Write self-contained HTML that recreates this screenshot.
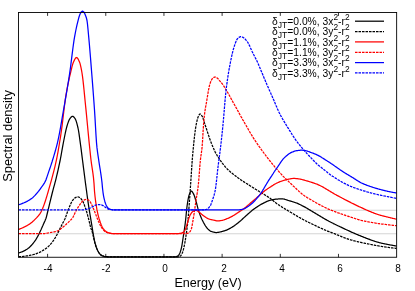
<!DOCTYPE html>
<html><head><meta charset="utf-8"><title>Spectral density</title>
<style>
html,body{margin:0;padding:0;background:#fff;}
body{width:415px;height:291px;position:relative;overflow:hidden;font-family:"Liberation Sans",sans-serif;color:#000;}
.tl,.xl,.yl,.lg{will-change:transform;}
.tl{position:absolute;top:262.5px;width:40px;text-align:center;font-size:10px;line-height:12px;}
.xl{position:absolute;left:107.6px;top:275.3px;width:200px;text-align:center;font-size:12.6px;line-height:16px;}
.yl{position:absolute;left:-42.4px;top:127.75px;width:100px;height:16px;text-align:center;font-size:12.9px;line-height:16px;transform:rotate(-90deg);transform-origin:50% 50%;white-space:nowrap;}
.lg{position:absolute;right:65.2px;white-space:nowrap;font-size:10.3px;line-height:12px;height:12px;}
.sb{font-size:8.6px;position:relative;top:3.3px;}
.sp{font-size:8.4px;position:relative;top:-5.4px;}
</style></head><body>
<svg width="415" height="291" viewBox="0 0 415 291" style="position:absolute;left:0;top:0">
<line x1="18.5" y1="233.75" x2="396.65" y2="233.75" stroke="#d4d4d4" stroke-width="1.2"/>
<line x1="18.5" y1="210.25" x2="396.65" y2="210.25" stroke="#d4d4d4" stroke-width="1.2"/>
<g fill="none" stroke-width="1.25" stroke-linejoin="round">
<path d="M18.5,252.9 L19.0,252.8 L19.5,252.7 L20.0,252.5 L20.5,252.4 L21.0,252.2 L21.5,252.0 L22.0,251.8 L22.5,251.6 L23.0,251.4 L23.5,251.1 L24.0,250.9 L24.5,250.6 L25.0,250.4 L25.5,250.1 L26.0,249.8 L26.5,249.5 L27.0,249.2 L27.5,248.8 L28.0,248.5 L28.5,248.1 L29.0,247.7 L29.5,247.2 L30.0,246.8 L30.5,246.3 L31.0,245.8 L31.5,245.3 L32.0,244.7 L32.5,244.1 L33.0,243.5 L33.5,242.8 L34.0,242.2 L34.5,241.5 L35.0,240.8 L35.5,240.1 L36.0,239.3 L36.5,238.5 L37.0,237.7 L37.5,236.8 L38.0,235.9 L38.5,235.0 L39.0,234.0 L39.5,232.9 L40.0,231.8 L40.5,230.7 L41.0,229.7 L41.5,228.6 L42.0,227.4 L42.5,226.3 L43.0,225.2 L43.5,224.0 L44.0,222.9 L44.5,221.9 L45.0,220.8 L45.5,219.6 L46.0,218.3 L46.5,216.6 L47.0,214.5 L47.5,212.5 L48.0,210.4 L48.5,208.4 L49.0,206.3 L49.5,204.2 L50.0,202.1 L50.5,200.1 L51.0,198.0 L51.5,196.0 L52.0,194.0 L52.5,192.0 L53.0,190.1 L53.5,188.2 L54.0,186.4 L54.5,184.6 L55.0,182.7 L55.5,180.8 L56.0,178.8 L56.5,176.7 L57.0,174.6 L57.5,172.5 L58.0,170.3 L58.5,168.0 L59.0,165.7 L59.5,163.4 L60.0,161.0 L60.5,158.5 L61.0,155.8 L61.5,153.0 L62.0,150.2 L62.5,147.4 L63.0,144.7 L63.5,142.0 L64.0,139.5 L64.5,137.0 L65.0,134.5 L65.5,132.1 L66.0,129.8 L66.5,127.8 L67.0,126.0 L67.5,124.4 L68.0,122.9 L68.5,121.5 L69.0,120.3 L69.5,119.3 L70.0,118.5 L70.5,117.9 L71.0,117.3 L71.5,116.8 L72.0,116.4 L72.5,116.3 L73.0,116.4 L73.5,116.7 L74.0,117.2 L74.5,117.8 L75.0,118.5 L75.5,119.4 L76.0,120.6 L76.5,122.1 L77.0,123.9 L77.5,125.9 L78.0,128.0 L78.5,130.5 L79.0,133.6 L79.5,137.1 L80.0,140.8 L80.5,144.5 L81.0,148.2 L81.5,152.1 L82.0,156.1 L82.5,160.0 L83.0,163.9 L83.5,167.8 L84.0,171.7 L84.5,175.6 L85.0,179.5 L85.5,183.3 L86.0,187.0 L86.5,190.7 L87.0,194.5 L87.5,198.2 L88.0,201.7 L88.5,205.1 L89.0,208.3 L89.5,211.4 L90.0,214.5 L90.5,217.4 L91.0,220.3 L91.5,223.3 L92.0,226.4 L92.5,229.6 L93.0,232.6 L93.5,235.5 L94.0,238.2 L94.5,240.7 L95.0,242.8 L95.5,244.6 L96.0,246.3 L96.5,247.7 L97.0,249.0 L97.5,250.1 L98.0,251.1 L98.5,252.0 L99.0,252.8 L99.5,253.5 L100.0,254.1 L100.5,254.6 L101.0,255.1 L101.5,255.4 L102.0,255.7 L102.5,255.9 L103.0,256.1 L103.5,256.2 L104.0,256.4 L104.5,256.5 L105.0,256.5 L105.5,256.6 L106.0,256.6 L106.5,256.7 L107.0,256.7 L107.5,256.8 L108.0,256.8 L108.5,256.8 L109.0,256.8 L109.5,256.8 L110.0,256.8 L110.5,256.8 L111.0,256.8 L111.5,256.8 L112.0,256.8 L112.5,256.8 L113.0,256.8 L113.5,256.8 L114.0,256.8 L114.5,256.8 L115.0,256.8 L115.5,256.8 L116.0,256.8 L116.5,256.8 L117.0,256.8 L117.5,256.8 L118.0,256.8 L118.5,256.8 L119.0,256.8 L119.5,256.8 L120.0,256.8 L120.5,256.8 L121.0,256.8 L121.5,256.8 L122.0,256.8 L122.5,256.8 L123.0,256.8 L123.5,256.8 L124.0,256.8 L124.5,256.8 L125.0,256.8 L125.5,256.8 L126.0,256.8 L126.5,256.8 L127.0,256.8 L127.5,256.8 L128.0,256.8 L128.5,256.8 L129.0,256.8 L129.5,256.8 L130.0,256.8 L130.5,256.8 L131.0,256.8 L131.5,256.8 L132.0,256.8 L132.5,256.8 L133.0,256.8 L133.5,256.8 L134.0,256.8 L134.5,256.8 L135.0,256.8 L135.5,256.8 L136.0,256.8 L136.5,256.8 L137.0,256.8 L137.5,256.8 L138.0,256.8 L138.5,256.8 L139.0,256.8 L139.5,256.8 L140.0,256.8 L140.5,256.8 L141.0,256.8 L141.5,256.8 L142.0,256.8 L142.5,256.8 L143.0,256.8 L143.5,256.8 L144.0,256.8 L144.5,256.8 L145.0,256.8 L145.5,256.8 L146.0,256.8 L146.5,256.8 L147.0,256.8 L147.5,256.8 L148.0,256.8 L148.5,256.8 L149.0,256.8 L149.5,256.8 L150.0,256.8 L150.5,256.8 L151.0,256.8 L151.5,256.8 L152.0,256.8 L152.5,256.8 L153.0,256.8 L153.5,256.8 L154.0,256.8 L154.5,256.8 L155.0,256.8 L155.5,256.8 L156.0,256.8 L156.5,256.8 L157.0,256.8 L157.5,256.8 L158.0,256.8 L158.5,256.8 L159.0,256.8 L159.5,256.8 L160.0,256.8 L160.5,256.8 L161.0,256.8 L161.5,256.8 L162.0,256.8 L162.5,256.8 L163.0,256.8 L163.5,256.8 L164.0,256.8 L164.5,256.8 L165.0,256.8 L165.5,256.8 L166.0,256.8 L166.5,256.8 L167.0,256.8 L167.5,256.8 L168.0,256.8 L168.5,256.8 L169.0,256.8 L169.5,256.8 L170.0,256.8 L170.5,256.8 L171.0,256.8 L171.5,256.8 L172.0,256.8 L172.5,256.8 L173.0,256.8 L173.5,256.8 L174.0,256.8 L174.5,256.8 L175.0,256.8 L175.5,256.8 L176.0,256.7 L176.5,256.6 L177.0,256.4 L177.5,256.2 L178.0,255.9 L178.5,255.3 L179.0,254.6 L179.5,253.8 L180.0,252.7 L180.5,251.3 L181.0,249.6 L181.5,247.6 L182.0,245.0 L182.5,241.8 L183.0,238.5 L183.5,235.2 L184.0,232.0 L184.5,228.6 L185.0,225.1 L185.5,221.2 L186.0,216.3 L186.5,211.1 L187.0,206.5 L187.5,203.0 L188.0,200.0 L188.5,197.4 L189.0,195.4 L189.5,194.0 L190.0,192.8 L190.5,191.8 L191.0,191.2 L191.5,191.1 L192.0,191.5 L192.5,192.1 L193.0,193.0 L193.5,193.9 L194.0,194.9 L194.5,196.2 L195.0,197.8 L195.5,199.5 L196.0,201.3 L196.5,203.0 L197.0,204.9 L197.5,206.8 L198.0,208.7 L198.5,210.4 L199.0,212.0 L199.5,213.4 L200.0,214.8 L200.5,216.0 L201.0,217.2 L201.5,218.4 L202.0,219.5 L202.5,220.5 L203.0,221.5 L203.5,222.5 L204.0,223.4 L204.5,224.3 L205.0,225.2 L205.5,226.0 L206.0,226.7 L206.5,227.4 L207.0,228.0 L207.5,228.5 L208.0,229.1 L208.5,229.6 L209.0,230.0 L209.5,230.4 L210.0,230.8 L210.5,231.1 L211.0,231.3 L211.5,231.5 L212.0,231.7 L212.5,231.8 L213.0,232.0 L213.5,232.1 L214.0,232.2 L214.5,232.3 L215.0,232.4 L215.5,232.5 L216.0,232.5 L216.5,232.5 L217.0,232.5 L217.5,232.4 L218.0,232.4 L218.5,232.3 L219.0,232.2 L219.5,232.1 L220.0,232.0 L220.5,231.9 L221.0,231.8 L221.5,231.6 L222.0,231.5 L222.5,231.4 L223.0,231.2 L223.5,231.1 L224.0,230.9 L224.5,230.8 L225.0,230.6 L225.5,230.4 L226.0,230.3 L226.5,230.1 L227.0,229.9 L227.5,229.6 L228.0,229.4 L228.5,229.1 L229.0,228.9 L229.5,228.6 L230.0,228.3 L230.5,228.1 L231.0,227.8 L231.5,227.5 L232.0,227.2 L232.5,226.9 L233.0,226.6 L233.5,226.3 L234.0,225.9 L234.5,225.6 L235.0,225.2 L235.5,224.8 L236.0,224.5 L236.5,224.1 L237.0,223.7 L237.5,223.3 L238.0,222.9 L238.5,222.5 L239.0,222.1 L239.5,221.7 L240.0,221.3 L240.5,220.8 L241.0,220.4 L241.5,219.9 L242.0,219.5 L242.5,219.0 L243.0,218.5 L243.5,218.1 L244.0,217.6 L244.5,217.1 L245.0,216.7 L245.5,216.2 L246.0,215.8 L246.5,215.3 L247.0,214.9 L247.5,214.5 L248.0,214.0 L248.5,213.6 L249.0,213.1 L249.5,212.7 L250.0,212.2 L250.5,211.8 L251.0,211.4 L251.5,210.9 L252.0,210.5 L252.5,210.1 L253.0,209.7 L253.5,209.4 L254.0,209.0 L254.5,208.6 L255.0,208.3 L255.5,207.9 L256.0,207.6 L256.5,207.3 L257.0,206.9 L257.5,206.6 L258.0,206.3 L258.5,206.0 L259.0,205.6 L259.5,205.3 L260.0,205.0 L260.5,204.7 L261.0,204.4 L261.5,204.2 L262.0,203.9 L262.5,203.6 L263.0,203.4 L263.5,203.1 L264.0,202.8 L264.5,202.6 L265.0,202.3 L265.5,202.1 L266.0,201.8 L266.5,201.6 L267.0,201.4 L267.5,201.2 L268.0,201.0 L268.5,200.8 L269.0,200.6 L269.5,200.5 L270.0,200.3 L270.5,200.2 L271.0,200.1 L271.5,200.0 L272.0,199.8 L272.5,199.7 L273.0,199.6 L273.5,199.5 L274.0,199.4 L274.5,199.4 L275.0,199.3 L275.5,199.2 L276.0,199.2 L276.5,199.1 L277.0,199.1 L277.5,199.0 L278.0,199.0 L278.5,198.9 L279.0,198.9 L279.5,198.9 L280.0,198.8 L280.5,198.8 L281.0,198.8 L281.5,198.8 L282.0,198.8 L282.5,198.8 L283.0,198.9 L283.5,199.0 L284.0,199.1 L284.5,199.2 L285.0,199.4 L285.5,199.5 L286.0,199.7 L286.5,199.9 L287.0,200.0 L287.5,200.2 L288.0,200.4 L288.5,200.5 L289.0,200.7 L289.5,200.8 L290.0,200.9 L290.5,201.1 L291.0,201.2 L291.5,201.4 L292.0,201.5 L292.5,201.7 L293.0,201.8 L293.5,202.0 L294.0,202.2 L294.5,202.3 L295.0,202.5 L295.5,202.7 L296.0,202.8 L296.5,203.0 L297.0,203.2 L297.5,203.4 L298.0,203.6 L298.5,203.8 L299.0,204.1 L299.5,204.3 L300.0,204.5 L300.5,204.8 L301.0,205.0 L301.5,205.3 L302.0,205.6 L302.5,205.8 L303.0,206.1 L303.5,206.4 L304.0,206.6 L304.5,206.9 L305.0,207.2 L305.5,207.4 L306.0,207.7 L306.5,208.0 L307.0,208.3 L307.5,208.6 L308.0,208.9 L308.5,209.2 L309.0,209.5 L309.5,209.8 L310.0,210.1 L310.5,210.4 L311.0,210.7 L311.5,211.0 L312.0,211.3 L312.5,211.6 L313.0,211.9 L313.5,212.2 L314.0,212.5 L314.5,212.8 L315.0,213.1 L315.5,213.4 L316.0,213.7 L316.5,214.0 L317.0,214.3 L317.5,214.6 L318.0,214.9 L318.5,215.2 L319.0,215.5 L319.5,215.8 L320.0,216.1 L320.5,216.4 L321.0,216.7 L321.5,217.0 L322.0,217.3 L322.5,217.6 L323.0,217.9 L323.5,218.2 L324.0,218.5 L324.5,218.8 L325.0,219.1 L325.5,219.4 L326.0,219.6 L326.5,219.9 L327.0,220.2 L327.5,220.5 L328.0,220.7 L328.5,221.0 L329.0,221.3 L329.5,221.5 L330.0,221.8 L330.5,222.0 L331.0,222.3 L331.5,222.5 L332.0,222.8 L332.5,223.0 L333.0,223.3 L333.5,223.6 L334.0,223.8 L334.5,224.0 L335.0,224.3 L335.5,224.5 L336.0,224.8 L336.5,225.0 L337.0,225.3 L337.5,225.5 L338.0,225.8 L338.5,226.0 L339.0,226.2 L339.5,226.5 L340.0,226.7 L340.5,227.0 L341.0,227.2 L341.5,227.4 L342.0,227.7 L342.5,227.9 L343.0,228.1 L343.5,228.4 L344.0,228.6 L344.5,228.8 L345.0,229.1 L345.5,229.3 L346.0,229.5 L346.5,229.8 L347.0,230.0 L347.5,230.2 L348.0,230.5 L348.5,230.7 L349.0,230.9 L349.5,231.2 L350.0,231.4 L350.5,231.6 L351.0,231.8 L351.5,232.1 L352.0,232.3 L352.5,232.5 L353.0,232.7 L353.5,233.0 L354.0,233.2 L354.5,233.4 L355.0,233.6 L355.5,233.8 L356.0,234.0 L356.5,234.3 L357.0,234.5 L357.5,234.7 L358.0,234.9 L358.5,235.1 L359.0,235.3 L359.5,235.5 L360.0,235.7 L360.5,235.9 L361.0,236.1 L361.5,236.3 L362.0,236.5 L362.5,236.7 L363.0,236.9 L363.5,237.1 L364.0,237.3 L364.5,237.5 L365.0,237.7 L365.5,237.9 L366.0,238.1 L366.5,238.3 L367.0,238.5 L367.5,238.7 L368.0,238.9 L368.5,239.1 L369.0,239.2 L369.5,239.4 L370.0,239.6 L370.5,239.8 L371.0,240.0 L371.5,240.2 L372.0,240.3 L372.5,240.5 L373.0,240.7 L373.5,240.9 L374.0,241.0 L374.5,241.2 L375.0,241.4 L375.5,241.5 L376.0,241.7 L376.5,241.8 L377.0,242.0 L377.5,242.1 L378.0,242.2 L378.5,242.4 L379.0,242.5 L379.5,242.7 L380.0,242.8 L380.5,242.9 L381.0,243.0 L381.5,243.2 L382.0,243.3 L382.5,243.4 L383.0,243.5 L383.5,243.6 L384.0,243.7 L384.5,243.8 L385.0,243.9 L385.5,244.0 L386.0,244.1 L386.5,244.2 L387.0,244.3 L387.5,244.4 L388.0,244.5 L388.5,244.6 L389.0,244.7 L389.5,244.8 L390.0,244.9 L390.5,245.0 L391.0,245.1 L391.5,245.2 L392.0,245.2 L392.5,245.3 L393.0,245.4 L393.5,245.5 L394.0,245.6 L394.5,245.7 L395.0,245.8 L395.5,245.8 L396.0,245.9 L396.5,246.0" stroke="#000"/>
<path d="M18.5,256.8 L19.0,256.8 L19.5,256.7 L20.0,256.7 L20.5,256.7 L21.0,256.6 L21.5,256.6 L22.0,256.5 L22.5,256.5 L23.0,256.4 L23.5,256.3 L24.0,256.3 L24.5,256.2 L25.0,256.1 L25.5,256.1 L26.0,256.0 L26.5,255.9 L27.0,255.8 L27.5,255.8 L28.0,255.7 L28.5,255.6 L29.0,255.5 L29.5,255.4 L30.0,255.3 L30.5,255.2 L31.0,255.1 L31.5,255.0 L32.0,254.9 L32.5,254.8 L33.0,254.7 L33.5,254.5 L34.0,254.4 L34.5,254.3 L35.0,254.1 L35.5,254.0 L36.0,253.8 L36.5,253.6 L37.0,253.4 L37.5,253.2 L38.0,253.0 L38.5,252.8 L39.0,252.6 L39.5,252.3 L40.0,252.1 L40.5,251.8 L41.0,251.6 L41.5,251.3 L42.0,251.0 L42.5,250.7 L43.0,250.4 L43.5,250.1 L44.0,249.8 L44.5,249.5 L45.0,249.2 L45.5,248.8 L46.0,248.4 L46.5,248.1 L47.0,247.7 L47.5,247.3 L48.0,246.8 L48.5,246.4 L49.0,245.9 L49.5,245.4 L50.0,244.9 L50.5,244.3 L51.0,243.7 L51.5,243.1 L52.0,242.4 L52.5,241.8 L53.0,241.1 L53.5,240.4 L54.0,239.6 L54.5,238.9 L55.0,238.1 L55.5,237.2 L56.0,236.4 L56.5,235.5 L57.0,234.6 L57.5,233.6 L58.0,232.6 L58.5,231.6 L59.0,230.6 L59.5,229.6 L60.0,228.6 L60.5,227.6 L61.0,226.6 L61.5,225.6 L62.0,224.6 L62.5,223.6 L63.0,222.6 L63.5,221.7 L64.0,220.7 L64.5,219.8 L65.0,218.7 L65.5,217.5 L66.0,216.1 L66.5,214.7 L67.0,213.2 L67.5,211.8 L68.0,210.5 L68.5,209.2 L69.0,207.9 L69.5,206.7 L70.0,205.5 L70.5,204.4 L71.0,203.3 L71.5,202.3 L72.0,201.4 L72.5,200.6 L73.0,199.9 L73.5,199.3 L74.0,198.8 L74.5,198.3 L75.0,197.9 L75.5,197.6 L76.0,197.3 L76.5,197.1 L77.0,196.9 L77.5,196.8 L78.0,196.8 L78.5,197.0 L79.0,197.2 L79.5,197.5 L80.0,197.8 L80.5,198.2 L81.0,198.7 L81.5,199.3 L82.0,200.0 L82.5,200.7 L83.0,201.7 L83.5,202.8 L84.0,204.1 L84.5,205.4 L85.0,206.8 L85.5,208.2 L86.0,209.7 L86.5,211.3 L87.0,213.0 L87.5,214.8 L88.0,216.6 L88.5,218.5 L89.0,220.5 L89.5,222.7 L90.0,224.9 L90.5,226.9 L91.0,228.5 L91.5,229.9 L92.0,231.3 L92.5,232.9 L93.0,234.9 L93.5,237.2 L94.0,239.6 L94.5,241.6 L95.0,243.4 L95.5,245.0 L96.0,246.5 L96.5,247.8 L97.0,249.0 L97.5,250.1 L98.0,251.1 L98.5,252.0 L99.0,252.8 L99.5,253.5 L100.0,254.1 L100.5,254.6 L101.0,255.1 L101.5,255.4 L102.0,255.7 L102.5,255.9 L103.0,256.1 L103.5,256.2 L104.0,256.4 L104.5,256.5 L105.0,256.5 L105.5,256.6 L106.0,256.6 L106.5,256.7 L107.0,256.7 L107.5,256.8 L108.0,256.8 L108.5,256.8 L109.0,256.8 L109.5,256.8 L110.0,256.8 L110.5,256.8 L111.0,256.8 L111.5,256.8 L112.0,256.8 L112.5,256.8 L113.0,256.8 L113.5,256.8 L114.0,256.8 L114.5,256.8 L115.0,256.8 L115.5,256.8 L116.0,256.8 L116.5,256.8 L117.0,256.8 L117.5,256.8 L118.0,256.8 L118.5,256.8 L119.0,256.8 L119.5,256.8 L120.0,256.8 L120.5,256.8 L121.0,256.8 L121.5,256.8 L122.0,256.8 L122.5,256.8 L123.0,256.8 L123.5,256.8 L124.0,256.8 L124.5,256.8 L125.0,256.8 L125.5,256.8 L126.0,256.8 L126.5,256.8 L127.0,256.8 L127.5,256.8 L128.0,256.8 L128.5,256.8 L129.0,256.8 L129.5,256.8 L130.0,256.8 L130.5,256.8 L131.0,256.8 L131.5,256.8 L132.0,256.8 L132.5,256.8 L133.0,256.8 L133.5,256.8 L134.0,256.8 L134.5,256.8 L135.0,256.8 L135.5,256.8 L136.0,256.8 L136.5,256.8 L137.0,256.8 L137.5,256.8 L138.0,256.8 L138.5,256.8 L139.0,256.8 L139.5,256.8 L140.0,256.8 L140.5,256.8 L141.0,256.8 L141.5,256.8 L142.0,256.8 L142.5,256.8 L143.0,256.8 L143.5,256.8 L144.0,256.8 L144.5,256.8 L145.0,256.8 L145.5,256.8 L146.0,256.8 L146.5,256.8 L147.0,256.8 L147.5,256.8 L148.0,256.8 L148.5,256.8 L149.0,256.8 L149.5,256.8 L150.0,256.8 L150.5,256.8 L151.0,256.8 L151.5,256.8 L152.0,256.8 L152.5,256.8 L153.0,256.8 L153.5,256.8 L154.0,256.8 L154.5,256.8 L155.0,256.8 L155.5,256.8 L156.0,256.8 L156.5,256.8 L157.0,256.8 L157.5,256.8 L158.0,256.8 L158.5,256.8 L159.0,256.8 L159.5,256.8 L160.0,256.8 L160.5,256.8 L161.0,256.8 L161.5,256.8 L162.0,256.8 L162.5,256.8 L163.0,256.8 L163.5,256.8 L164.0,256.8 L164.5,256.8 L165.0,256.8 L165.5,256.8 L166.0,256.8 L166.5,256.8 L167.0,256.8 L167.5,256.8 L168.0,256.8 L168.5,256.8 L169.0,256.8 L169.5,256.8 L170.0,256.8 L170.5,256.8 L171.0,256.8 L171.5,256.8 L172.0,256.8 L172.5,256.8 L173.0,256.8 L173.5,256.8 L174.0,256.8 L174.5,256.8 L175.0,256.8 L175.5,256.8 L176.0,256.8 L176.5,256.8 L177.0,256.8 L177.5,256.8 L178.0,256.8 L178.5,256.7 L179.0,256.6 L179.5,256.4 L180.0,256.2 L180.5,256.0 L181.0,255.4 L181.5,254.6 L182.0,253.6 L182.5,252.5 L183.0,251.1 L183.5,249.2 L184.0,247.1 L184.5,244.7 L185.0,242.1 L185.5,239.1 L186.0,235.7 L186.5,232.2 L187.0,228.5 L187.5,224.6 L188.0,220.0 L188.5,214.1 L189.0,207.4 L189.5,200.5 L190.0,193.3 L190.5,186.0 L191.0,178.5 L191.5,170.8 L192.0,163.4 L192.5,156.8 L193.0,151.3 L193.5,146.0 L194.0,141.1 L194.5,136.5 L195.0,132.3 L195.5,128.6 L196.0,125.6 L196.5,123.0 L197.0,120.8 L197.5,118.8 L198.0,117.2 L198.5,116.0 L199.0,115.1 L199.5,114.3 L200.0,114.0 L200.5,114.2 L201.0,114.6 L201.5,115.3 L202.0,116.0 L202.5,116.9 L203.0,118.2 L203.5,119.7 L204.0,121.3 L204.5,123.0 L205.0,124.5 L205.5,126.0 L206.0,127.5 L206.5,129.0 L207.0,130.5 L207.5,132.1 L208.0,133.6 L208.5,135.1 L209.0,136.6 L209.5,138.1 L210.0,139.5 L210.5,140.9 L211.0,142.2 L211.5,143.5 L212.0,144.8 L212.5,146.0 L213.0,147.2 L213.5,148.3 L214.0,149.4 L214.5,150.5 L215.0,151.6 L215.5,152.6 L216.0,153.5 L216.5,154.4 L217.0,155.2 L217.5,156.1 L218.0,156.9 L218.5,157.6 L219.0,158.4 L219.5,159.1 L220.0,159.8 L220.5,160.6 L221.0,161.3 L221.5,162.0 L222.0,162.7 L222.5,163.4 L223.0,164.0 L223.5,164.7 L224.0,165.3 L224.5,165.9 L225.0,166.5 L225.5,167.1 L226.0,167.6 L226.5,168.1 L227.0,168.7 L227.5,169.2 L228.0,169.7 L228.5,170.2 L229.0,170.6 L229.5,171.1 L230.0,171.5 L230.5,172.0 L231.0,172.4 L231.5,172.8 L232.0,173.2 L232.5,173.6 L233.0,174.0 L233.5,174.4 L234.0,174.8 L234.5,175.2 L235.0,175.5 L235.5,175.9 L236.0,176.3 L236.5,176.7 L237.0,177.1 L237.5,177.4 L238.0,177.8 L238.5,178.2 L239.0,178.5 L239.5,178.9 L240.0,179.2 L240.5,179.6 L241.0,179.9 L241.5,180.3 L242.0,180.6 L242.5,180.9 L243.0,181.3 L243.5,181.6 L244.0,181.9 L244.5,182.2 L245.0,182.5 L245.5,182.8 L246.0,183.2 L246.5,183.5 L247.0,183.8 L247.5,184.1 L248.0,184.4 L248.5,184.8 L249.0,185.1 L249.5,185.4 L250.0,185.7 L250.5,186.0 L251.0,186.4 L251.5,186.7 L252.0,187.0 L252.5,187.3 L253.0,187.6 L253.5,187.9 L254.0,188.3 L254.5,188.6 L255.0,188.9 L255.5,189.2 L256.0,189.5 L256.5,189.8 L257.0,190.1 L257.5,190.4 L258.0,190.7 L258.5,191.0 L259.0,191.3 L259.5,191.7 L260.0,192.0 L260.5,192.3 L261.0,192.6 L261.5,192.9 L262.0,193.2 L262.5,193.5 L263.0,193.8 L263.5,194.1 L264.0,194.4 L264.5,194.7 L265.0,195.0 L265.5,195.3 L266.0,195.6 L266.5,195.9 L267.0,196.2 L267.5,196.5 L268.0,196.9 L268.5,197.2 L269.0,197.5 L269.5,197.9 L270.0,198.2 L270.5,198.6 L271.0,199.0 L271.5,199.3 L272.0,199.7 L272.5,200.2 L273.0,200.6 L273.5,201.0 L274.0,201.4 L274.5,201.8 L275.0,202.2 L275.5,202.6 L276.0,203.0 L276.5,203.4 L277.0,203.8 L277.5,204.1 L278.0,204.5 L278.5,204.8 L279.0,205.1 L279.5,205.5 L280.0,205.8 L280.5,206.1 L281.0,206.4 L281.5,206.7 L282.0,207.1 L282.5,207.4 L283.0,207.7 L283.5,208.0 L284.0,208.3 L284.5,208.6 L285.0,208.9 L285.5,209.2 L286.0,209.5 L286.5,209.8 L287.0,210.1 L287.5,210.4 L288.0,210.7 L288.5,211.0 L289.0,211.3 L289.5,211.6 L290.0,211.9 L290.5,212.2 L291.0,212.5 L291.5,212.8 L292.0,213.1 L292.5,213.4 L293.0,213.7 L293.5,214.0 L294.0,214.3 L294.5,214.6 L295.0,214.9 L295.5,215.2 L296.0,215.5 L296.5,215.8 L297.0,216.1 L297.5,216.4 L298.0,216.7 L298.5,217.0 L299.0,217.3 L299.5,217.5 L300.0,217.8 L300.5,218.1 L301.0,218.4 L301.5,218.7 L302.0,218.9 L302.5,219.2 L303.0,219.5 L303.5,219.7 L304.0,220.0 L304.5,220.3 L305.0,220.5 L305.5,220.8 L306.0,221.0 L306.5,221.3 L307.0,221.6 L307.5,221.8 L308.0,222.1 L308.5,222.3 L309.0,222.5 L309.5,222.8 L310.0,223.0 L310.5,223.3 L311.0,223.5 L311.5,223.7 L312.0,224.0 L312.5,224.2 L313.0,224.5 L313.5,224.7 L314.0,224.9 L314.5,225.2 L315.0,225.4 L315.5,225.6 L316.0,225.9 L316.5,226.1 L317.0,226.3 L317.5,226.6 L318.0,226.8 L318.5,227.1 L319.0,227.3 L319.5,227.5 L320.0,227.8 L320.5,228.0 L321.0,228.2 L321.5,228.5 L322.0,228.7 L322.5,228.9 L323.0,229.2 L323.5,229.4 L324.0,229.6 L324.5,229.8 L325.0,230.0 L325.5,230.2 L326.0,230.5 L326.5,230.7 L327.0,230.9 L327.5,231.1 L328.0,231.3 L328.5,231.4 L329.0,231.6 L329.5,231.8 L330.0,232.0 L330.5,232.2 L331.0,232.4 L331.5,232.6 L332.0,232.8 L332.5,232.9 L333.0,233.1 L333.5,233.3 L334.0,233.5 L334.5,233.7 L335.0,233.9 L335.5,234.2 L336.0,234.4 L336.5,234.6 L337.0,234.8 L337.5,235.0 L338.0,235.2 L338.5,235.4 L339.0,235.6 L339.5,235.8 L340.0,236.0 L340.5,236.2 L341.0,236.4 L341.5,236.6 L342.0,236.8 L342.5,237.0 L343.0,237.2 L343.5,237.4 L344.0,237.6 L344.5,237.8 L345.0,238.0 L345.5,238.2 L346.0,238.4 L346.5,238.6 L347.0,238.7 L347.5,238.9 L348.0,239.1 L348.5,239.2 L349.0,239.4 L349.5,239.5 L350.0,239.7 L350.5,239.8 L351.0,240.0 L351.5,240.1 L352.0,240.2 L352.5,240.4 L353.0,240.5 L353.5,240.6 L354.0,240.8 L354.5,240.9 L355.0,241.0 L355.5,241.2 L356.0,241.3 L356.5,241.4 L357.0,241.5 L357.5,241.6 L358.0,241.8 L358.5,241.9 L359.0,242.0 L359.5,242.1 L360.0,242.2 L360.5,242.3 L361.0,242.4 L361.5,242.6 L362.0,242.7 L362.5,242.8 L363.0,242.9 L363.5,243.0 L364.0,243.1 L364.5,243.2 L365.0,243.3 L365.5,243.4 L366.0,243.5 L366.5,243.6 L367.0,243.7 L367.5,243.8 L368.0,243.9 L368.5,244.0 L369.0,244.1 L369.5,244.2 L370.0,244.3 L370.5,244.4 L371.0,244.5 L371.5,244.6 L372.0,244.7 L372.5,244.8 L373.0,244.9 L373.5,245.0 L374.0,245.1 L374.5,245.2 L375.0,245.3 L375.5,245.4 L376.0,245.5 L376.5,245.6 L377.0,245.7 L377.5,245.7 L378.0,245.8 L378.5,245.9 L379.0,246.0 L379.5,246.1 L380.0,246.2 L380.5,246.2 L381.0,246.3 L381.5,246.4 L382.0,246.5 L382.5,246.6 L383.0,246.6 L383.5,246.7 L384.0,246.8 L384.5,246.9 L385.0,246.9 L385.5,247.0 L386.0,247.1 L386.5,247.2 L387.0,247.2 L387.5,247.3 L388.0,247.4 L388.5,247.4 L389.0,247.5 L389.5,247.6 L390.0,247.6 L390.5,247.7 L391.0,247.8 L391.5,247.8 L392.0,247.9 L392.5,247.9 L393.0,248.0 L393.5,248.1 L394.0,248.1 L394.5,248.2 L395.0,248.2 L395.5,248.3 L396.0,248.3 L396.5,248.4" stroke="#000" stroke-dasharray="2.55 0.95"/>
<path d="M18.5,229.5 L19.0,229.3 L19.5,229.1 L20.0,228.9 L20.5,228.7 L21.0,228.5 L21.5,228.3 L22.0,228.0 L22.5,227.8 L23.0,227.6 L23.5,227.3 L24.0,227.1 L24.5,226.8 L25.0,226.6 L25.5,226.3 L26.0,226.1 L26.5,225.8 L27.0,225.6 L27.5,225.3 L28.0,225.0 L28.5,224.7 L29.0,224.4 L29.5,224.1 L30.0,223.7 L30.5,223.4 L31.0,223.0 L31.5,222.6 L32.0,222.2 L32.5,221.7 L33.0,221.3 L33.5,220.8 L34.0,220.4 L34.5,219.9 L35.0,219.4 L35.5,218.9 L36.0,218.4 L36.5,217.9 L37.0,217.3 L37.5,216.7 L38.0,216.2 L38.5,215.6 L39.0,215.0 L39.5,214.3 L40.0,213.6 L40.5,212.8 L41.0,212.0 L41.5,211.0 L42.0,209.9 L42.5,208.8 L43.0,207.5 L43.5,206.3 L44.0,204.9 L44.5,203.5 L45.0,202.0 L45.5,200.5 L46.0,198.9 L46.5,197.3 L47.0,195.6 L47.5,193.9 L48.0,192.2 L48.5,190.4 L49.0,188.6 L49.5,186.9 L50.0,185.1 L50.5,183.4 L51.0,181.6 L51.5,179.8 L52.0,177.9 L52.5,176.1 L53.0,174.2 L53.5,172.3 L54.0,170.4 L54.5,168.4 L55.0,166.3 L55.5,164.2 L56.0,161.9 L56.5,159.6 L57.0,157.1 L57.5,154.5 L58.0,151.8 L58.5,148.9 L59.0,146.0 L59.5,143.0 L60.0,140.0 L60.5,136.8 L61.0,133.5 L61.5,130.0 L62.0,126.3 L62.5,122.3 L63.0,118.2 L63.5,114.0 L64.0,109.8 L64.5,105.7 L65.0,101.8 L65.5,98.2 L66.0,95.0 L66.5,92.1 L67.0,89.3 L67.5,86.7 L68.0,84.2 L68.5,81.8 L69.0,79.5 L69.5,77.2 L70.0,75.1 L70.5,73.0 L71.0,70.9 L71.5,68.8 L72.0,66.7 L72.5,64.9 L73.0,63.3 L73.5,62.0 L74.0,60.9 L74.5,59.9 L75.0,59.0 L75.5,58.2 L76.0,57.7 L76.5,57.5 L77.0,57.7 L77.5,58.2 L78.0,58.9 L78.5,59.8 L79.0,60.9 L79.5,62.0 L80.0,63.4 L80.5,65.3 L81.0,67.6 L81.5,70.2 L82.0,73.0 L82.5,76.3 L83.0,80.3 L83.5,84.9 L84.0,89.8 L84.5,94.9 L85.0,100.0 L85.5,105.0 L86.0,109.9 L86.5,115.0 L87.0,120.2 L87.5,125.5 L88.0,130.7 L88.5,135.9 L89.0,141.1 L89.5,146.0 L90.0,150.8 L90.5,155.6 L91.0,160.0 L91.5,163.8 L92.0,167.1 L92.5,170.3 L93.0,173.8 L93.5,177.9 L94.0,183.4 L94.5,191.2 L95.0,196.2 L95.5,200.3 L96.0,203.8 L96.5,207.0 L97.0,209.9 L97.5,212.4 L98.0,214.6 L98.5,216.6 L99.0,218.4 L99.5,220.0 L100.0,221.5 L100.5,222.9 L101.0,224.2 L101.5,225.4 L102.0,226.5 L102.5,227.5 L103.0,228.3 L103.5,229.0 L104.0,229.6 L104.5,230.2 L105.0,230.7 L105.5,231.1 L106.0,231.5 L106.5,231.8 L107.0,232.1 L107.5,232.4 L108.0,232.6 L108.5,232.8 L109.0,232.9 L109.5,233.1 L110.0,233.2 L110.5,233.3 L111.0,233.4 L111.5,233.5 L112.0,233.5 L112.5,233.5 L113.0,233.5 L113.5,233.5 L114.0,233.5 L114.5,233.5 L115.0,233.5 L115.5,233.5 L116.0,233.5 L116.5,233.5 L117.0,233.5 L117.5,233.5 L118.0,233.5 L118.5,233.5 L119.0,233.5 L119.5,233.5 L120.0,233.5 L120.5,233.5 L121.0,233.5 L121.5,233.5 L122.0,233.5 L122.5,233.5 L123.0,233.5 L123.5,233.5 L124.0,233.5 L124.5,233.5 L125.0,233.5 L125.5,233.5 L126.0,233.5 L126.5,233.5 L127.0,233.5 L127.5,233.5 L128.0,233.5 L128.5,233.5 L129.0,233.5 L129.5,233.5 L130.0,233.5 L130.5,233.5 L131.0,233.5 L131.5,233.5 L132.0,233.5 L132.5,233.5 L133.0,233.5 L133.5,233.5 L134.0,233.5 L134.5,233.5 L135.0,233.5 L135.5,233.5 L136.0,233.5 L136.5,233.5 L137.0,233.5 L137.5,233.5 L138.0,233.5 L138.5,233.5 L139.0,233.5 L139.5,233.5 L140.0,233.5 L140.5,233.5 L141.0,233.5 L141.5,233.5 L142.0,233.5 L142.5,233.5 L143.0,233.5 L143.5,233.5 L144.0,233.5 L144.5,233.5 L145.0,233.5 L145.5,233.5 L146.0,233.5 L146.5,233.5 L147.0,233.5 L147.5,233.5 L148.0,233.5 L148.5,233.5 L149.0,233.5 L149.5,233.5 L150.0,233.5 L150.5,233.5 L151.0,233.5 L151.5,233.5 L152.0,233.5 L152.5,233.5 L153.0,233.5 L153.5,233.5 L154.0,233.5 L154.5,233.5 L155.0,233.5 L155.5,233.5 L156.0,233.5 L156.5,233.5 L157.0,233.5 L157.5,233.5 L158.0,233.5 L158.5,233.5 L159.0,233.5 L159.5,233.5 L160.0,233.5 L160.5,233.5 L161.0,233.5 L161.5,233.5 L162.0,233.5 L162.5,233.5 L163.0,233.5 L163.5,233.5 L164.0,233.5 L164.5,233.5 L165.0,233.5 L165.5,233.5 L166.0,233.5 L166.5,233.5 L167.0,233.5 L167.5,233.5 L168.0,233.5 L168.5,233.5 L169.0,233.5 L169.5,233.5 L170.0,233.5 L170.5,233.5 L171.0,233.5 L171.5,233.5 L172.0,233.5 L172.5,233.5 L173.0,233.5 L173.5,233.5 L174.0,233.5 L174.5,233.5 L175.0,233.5 L175.5,233.5 L176.0,233.5 L176.5,233.5 L177.0,233.5 L177.5,233.5 L178.0,233.5 L178.5,233.5 L179.0,233.5 L179.5,233.4 L180.0,233.4 L180.5,233.3 L181.0,233.2 L181.5,233.1 L182.0,232.9 L182.5,232.6 L183.0,232.3 L183.5,231.9 L184.0,231.5 L184.5,230.9 L185.0,230.0 L185.5,228.9 L186.0,227.8 L186.5,226.3 L187.0,224.5 L187.5,222.7 L188.0,221.0 L188.5,219.5 L189.0,217.9 L189.5,216.5 L190.0,215.3 L190.5,214.4 L191.0,213.6 L191.5,212.9 L192.0,212.2 L192.5,211.7 L193.0,211.4 L193.5,211.1 L194.0,210.8 L194.5,210.6 L195.0,210.5 L195.5,210.3 L196.0,210.3 L196.5,210.4 L197.0,210.6 L197.5,210.9 L198.0,211.3 L198.5,211.7 L199.0,212.1 L199.5,212.4 L200.0,212.8 L200.5,213.3 L201.0,213.7 L201.5,214.1 L202.0,214.6 L202.5,215.0 L203.0,215.4 L203.5,215.7 L204.0,216.1 L204.5,216.4 L205.0,216.8 L205.5,217.1 L206.0,217.5 L206.5,217.8 L207.0,218.1 L207.5,218.3 L208.0,218.6 L208.5,218.8 L209.0,219.0 L209.5,219.2 L210.0,219.3 L210.5,219.5 L211.0,219.6 L211.5,219.7 L212.0,219.8 L212.5,219.9 L213.0,220.0 L213.5,220.1 L214.0,220.2 L214.5,220.3 L215.0,220.4 L215.5,220.6 L216.0,220.7 L216.5,220.8 L217.0,220.9 L217.5,220.9 L218.0,220.9 L218.5,220.9 L219.0,220.8 L219.5,220.8 L220.0,220.7 L220.5,220.6 L221.0,220.6 L221.5,220.5 L222.0,220.4 L222.5,220.3 L223.0,220.2 L223.5,220.0 L224.0,219.9 L224.5,219.7 L225.0,219.5 L225.5,219.3 L226.0,219.1 L226.5,218.9 L227.0,218.7 L227.5,218.5 L228.0,218.3 L228.5,218.1 L229.0,217.9 L229.5,217.6 L230.0,217.4 L230.5,217.2 L231.0,216.9 L231.5,216.7 L232.0,216.4 L232.5,216.1 L233.0,215.8 L233.5,215.5 L234.0,215.2 L234.5,214.9 L235.0,214.6 L235.5,214.2 L236.0,213.9 L236.5,213.6 L237.0,213.2 L237.5,212.9 L238.0,212.6 L238.5,212.2 L239.0,211.9 L239.5,211.6 L240.0,211.3 L240.5,211.0 L241.0,210.6 L241.5,210.3 L242.0,210.0 L242.5,209.7 L243.0,209.3 L243.5,208.9 L244.0,208.6 L244.5,208.2 L245.0,207.8 L245.5,207.4 L246.0,207.0 L246.5,206.5 L247.0,206.1 L247.5,205.7 L248.0,205.2 L248.5,204.8 L249.0,204.4 L249.5,203.9 L250.0,203.5 L250.5,203.0 L251.0,202.6 L251.5,202.2 L252.0,201.8 L252.5,201.3 L253.0,200.9 L253.5,200.5 L254.0,200.1 L254.5,199.7 L255.0,199.2 L255.5,198.8 L256.0,198.4 L256.5,197.9 L257.0,197.5 L257.5,197.1 L258.0,196.6 L258.5,196.2 L259.0,195.7 L259.5,195.3 L260.0,194.8 L260.5,194.4 L261.0,194.0 L261.5,193.5 L262.0,193.1 L262.5,192.6 L263.0,192.2 L263.5,191.8 L264.0,191.4 L264.5,191.0 L265.0,190.6 L265.5,190.2 L266.0,189.9 L266.5,189.5 L267.0,189.2 L267.5,188.8 L268.0,188.5 L268.5,188.2 L269.0,187.8 L269.5,187.5 L270.0,187.2 L270.5,186.9 L271.0,186.6 L271.5,186.2 L272.0,185.9 L272.5,185.6 L273.0,185.3 L273.5,184.9 L274.0,184.6 L274.5,184.3 L275.0,184.0 L275.5,183.8 L276.0,183.5 L276.5,183.2 L277.0,183.0 L277.5,182.8 L278.0,182.5 L278.5,182.3 L279.0,182.1 L279.5,181.9 L280.0,181.7 L280.5,181.5 L281.0,181.3 L281.5,181.2 L282.0,181.0 L282.5,180.8 L283.0,180.7 L283.5,180.5 L284.0,180.3 L284.5,180.2 L285.0,180.1 L285.5,179.9 L286.0,179.8 L286.5,179.7 L287.0,179.5 L287.5,179.4 L288.0,179.3 L288.5,179.2 L289.0,179.1 L289.5,179.0 L290.0,178.9 L290.5,178.8 L291.0,178.7 L291.5,178.6 L292.0,178.6 L292.5,178.5 L293.0,178.4 L293.5,178.4 L294.0,178.4 L294.5,178.4 L295.0,178.4 L295.5,178.5 L296.0,178.5 L296.5,178.6 L297.0,178.6 L297.5,178.7 L298.0,178.8 L298.5,178.8 L299.0,178.9 L299.5,179.0 L300.0,179.1 L300.5,179.2 L301.0,179.3 L301.5,179.4 L302.0,179.5 L302.5,179.7 L303.0,179.8 L303.5,179.9 L304.0,180.1 L304.5,180.2 L305.0,180.4 L305.5,180.5 L306.0,180.7 L306.5,180.8 L307.0,180.9 L307.5,181.1 L308.0,181.2 L308.5,181.4 L309.0,181.5 L309.5,181.7 L310.0,181.8 L310.5,182.0 L311.0,182.1 L311.5,182.3 L312.0,182.4 L312.5,182.6 L313.0,182.8 L313.5,182.9 L314.0,183.1 L314.5,183.3 L315.0,183.5 L315.5,183.7 L316.0,183.8 L316.5,184.0 L317.0,184.2 L317.5,184.4 L318.0,184.6 L318.5,184.9 L319.0,185.1 L319.5,185.3 L320.0,185.5 L320.5,185.8 L321.0,186.0 L321.5,186.3 L322.0,186.5 L322.5,186.8 L323.0,187.1 L323.5,187.4 L324.0,187.7 L324.5,188.0 L325.0,188.3 L325.5,188.6 L326.0,188.9 L326.5,189.2 L327.0,189.5 L327.5,189.8 L328.0,190.1 L328.5,190.4 L329.0,190.7 L329.5,191.0 L330.0,191.3 L330.5,191.6 L331.0,191.9 L331.5,192.2 L332.0,192.5 L332.5,192.8 L333.0,193.1 L333.5,193.4 L334.0,193.7 L334.5,194.0 L335.0,194.3 L335.5,194.5 L336.0,194.8 L336.5,195.1 L337.0,195.4 L337.5,195.6 L338.0,195.9 L338.5,196.2 L339.0,196.4 L339.5,196.7 L340.0,197.0 L340.5,197.2 L341.0,197.5 L341.5,197.7 L342.0,198.0 L342.5,198.3 L343.0,198.5 L343.5,198.8 L344.0,199.1 L344.5,199.3 L345.0,199.6 L345.5,199.8 L346.0,200.1 L346.5,200.4 L347.0,200.6 L347.5,200.9 L348.0,201.2 L348.5,201.4 L349.0,201.7 L349.5,201.9 L350.0,202.2 L350.5,202.4 L351.0,202.7 L351.5,203.0 L352.0,203.2 L352.5,203.5 L353.0,203.7 L353.5,203.9 L354.0,204.2 L354.5,204.4 L355.0,204.7 L355.5,204.9 L356.0,205.1 L356.5,205.4 L357.0,205.6 L357.5,205.9 L358.0,206.1 L358.5,206.3 L359.0,206.6 L359.5,206.8 L360.0,207.0 L360.5,207.2 L361.0,207.5 L361.5,207.7 L362.0,207.9 L362.5,208.2 L363.0,208.4 L363.5,208.6 L364.0,208.9 L364.5,209.1 L365.0,209.3 L365.5,209.5 L366.0,209.8 L366.5,210.0 L367.0,210.2 L367.5,210.5 L368.0,210.7 L368.5,210.9 L369.0,211.1 L369.5,211.3 L370.0,211.5 L370.5,211.7 L371.0,211.9 L371.5,212.1 L372.0,212.3 L372.5,212.5 L373.0,212.7 L373.5,212.9 L374.0,213.1 L374.5,213.3 L375.0,213.5 L375.5,213.6 L376.0,213.8 L376.5,214.0 L377.0,214.2 L377.5,214.3 L378.0,214.5 L378.5,214.7 L379.0,214.8 L379.5,215.0 L380.0,215.1 L380.5,215.3 L381.0,215.4 L381.5,215.5 L382.0,215.7 L382.5,215.8 L383.0,215.9 L383.5,216.1 L384.0,216.2 L384.5,216.3 L385.0,216.4 L385.5,216.5 L386.0,216.7 L386.5,216.8 L387.0,216.9 L387.5,217.0 L388.0,217.2 L388.5,217.3 L389.0,217.4 L389.5,217.5 L390.0,217.6 L390.5,217.8 L391.0,217.9 L391.5,218.0 L392.0,218.1 L392.5,218.3 L393.0,218.4 L393.5,218.5 L394.0,218.6 L394.5,218.7 L395.0,218.8 L395.5,219.0 L396.0,219.1 L396.5,219.2" stroke="#f00"/>
<path d="M18.5,233.6 L19.0,233.6 L19.5,233.6 L20.0,233.6 L20.5,233.6 L21.0,233.6 L21.5,233.6 L22.0,233.6 L22.5,233.6 L23.0,233.6 L23.5,233.6 L24.0,233.6 L24.5,233.6 L25.0,233.6 L25.5,233.6 L26.0,233.6 L26.5,233.6 L27.0,233.6 L27.5,233.6 L28.0,233.6 L28.5,233.6 L29.0,233.6 L29.5,233.6 L30.0,233.6 L30.5,233.6 L31.0,233.6 L31.5,233.6 L32.0,233.6 L32.5,233.6 L33.0,233.6 L33.5,233.6 L34.0,233.6 L34.5,233.6 L35.0,233.6 L35.5,233.6 L36.0,233.6 L36.5,233.6 L37.0,233.6 L37.5,233.6 L38.0,233.6 L38.5,233.6 L39.0,233.6 L39.5,233.6 L40.0,233.6 L40.5,233.6 L41.0,233.6 L41.5,233.6 L42.0,233.6 L42.5,233.6 L43.0,233.6 L43.5,233.6 L44.0,233.6 L44.5,233.5 L45.0,233.5 L45.5,233.4 L46.0,233.3 L46.5,233.3 L47.0,233.2 L47.5,233.1 L48.0,233.0 L48.5,232.9 L49.0,232.8 L49.5,232.7 L50.0,232.6 L50.5,232.5 L51.0,232.4 L51.5,232.4 L52.0,232.3 L52.5,232.2 L53.0,232.1 L53.5,232.0 L54.0,231.9 L54.5,231.8 L55.0,231.7 L55.5,231.6 L56.0,231.4 L56.5,231.3 L57.0,231.1 L57.5,231.0 L58.0,230.7 L58.5,230.5 L59.0,230.2 L59.5,229.8 L60.0,229.4 L60.5,229.0 L61.0,228.6 L61.5,228.3 L62.0,227.9 L62.5,227.5 L63.0,227.1 L63.5,226.7 L64.0,226.3 L64.5,225.8 L65.0,225.4 L65.5,224.9 L66.0,224.5 L66.5,224.0 L67.0,223.6 L67.5,223.1 L68.0,222.6 L68.5,222.1 L69.0,221.6 L69.5,221.1 L70.0,220.6 L70.5,220.1 L71.0,219.7 L71.5,219.2 L72.0,218.6 L72.5,218.0 L73.0,217.2 L73.5,216.2 L74.0,215.1 L74.5,214.0 L75.0,212.9 L75.5,211.9 L76.0,211.0 L76.5,210.0 L77.0,209.1 L77.5,208.3 L78.0,207.4 L78.5,206.6 L79.0,205.8 L79.5,205.1 L80.0,204.4 L80.5,203.7 L81.0,203.0 L81.5,202.3 L82.0,201.7 L82.5,201.2 L83.0,200.7 L83.5,200.4 L84.0,200.1 L84.5,199.9 L85.0,199.7 L85.5,199.5 L86.0,199.4 L86.5,199.4 L87.0,199.5 L87.5,199.6 L88.0,199.9 L88.5,200.1 L89.0,200.5 L89.5,201.0 L90.0,201.6 L90.5,202.3 L91.0,203.2 L91.5,204.2 L92.0,205.3 L92.5,206.4 L93.0,207.5 L93.5,208.7 L94.0,209.9 L94.5,211.2 L95.0,212.5 L95.5,213.8 L96.0,215.1 L96.5,216.4 L97.0,217.7 L97.5,218.9 L98.0,220.2 L98.5,221.4 L99.0,222.5 L99.5,223.6 L100.0,224.7 L100.5,225.7 L101.0,226.6 L101.5,227.5 L102.0,228.2 L102.5,228.9 L103.0,229.5 L103.5,230.1 L104.0,230.6 L104.5,231.1 L105.0,231.5 L105.5,231.8 L106.0,232.1 L106.5,232.3 L107.0,232.5 L107.5,232.7 L108.0,232.9 L108.5,233.0 L109.0,233.1 L109.5,233.2 L110.0,233.3 L110.5,233.4 L111.0,233.4 L111.5,233.5 L112.0,233.5 L112.5,233.5 L113.0,233.5 L113.5,233.5 L114.0,233.5 L114.5,233.5 L115.0,233.5 L115.5,233.5 L116.0,233.5 L116.5,233.5 L117.0,233.5 L117.5,233.5 L118.0,233.5 L118.5,233.5 L119.0,233.5 L119.5,233.5 L120.0,233.5 L120.5,233.5 L121.0,233.5 L121.5,233.5 L122.0,233.5 L122.5,233.5 L123.0,233.5 L123.5,233.5 L124.0,233.5 L124.5,233.5 L125.0,233.5 L125.5,233.5 L126.0,233.5 L126.5,233.5 L127.0,233.5 L127.5,233.5 L128.0,233.5 L128.5,233.5 L129.0,233.5 L129.5,233.5 L130.0,233.5 L130.5,233.5 L131.0,233.5 L131.5,233.5 L132.0,233.5 L132.5,233.5 L133.0,233.5 L133.5,233.5 L134.0,233.5 L134.5,233.5 L135.0,233.5 L135.5,233.5 L136.0,233.5 L136.5,233.5 L137.0,233.5 L137.5,233.5 L138.0,233.5 L138.5,233.5 L139.0,233.5 L139.5,233.5 L140.0,233.5 L140.5,233.5 L141.0,233.5 L141.5,233.5 L142.0,233.5 L142.5,233.5 L143.0,233.5 L143.5,233.5 L144.0,233.5 L144.5,233.5 L145.0,233.5 L145.5,233.5 L146.0,233.5 L146.5,233.5 L147.0,233.5 L147.5,233.5 L148.0,233.5 L148.5,233.5 L149.0,233.5 L149.5,233.5 L150.0,233.5 L150.5,233.5 L151.0,233.5 L151.5,233.5 L152.0,233.5 L152.5,233.5 L153.0,233.5 L153.5,233.5 L154.0,233.5 L154.5,233.5 L155.0,233.5 L155.5,233.5 L156.0,233.5 L156.5,233.5 L157.0,233.5 L157.5,233.5 L158.0,233.5 L158.5,233.5 L159.0,233.5 L159.5,233.5 L160.0,233.5 L160.5,233.5 L161.0,233.5 L161.5,233.5 L162.0,233.5 L162.5,233.5 L163.0,233.5 L163.5,233.5 L164.0,233.5 L164.5,233.5 L165.0,233.5 L165.5,233.5 L166.0,233.5 L166.5,233.5 L167.0,233.5 L167.5,233.5 L168.0,233.5 L168.5,233.5 L169.0,233.5 L169.5,233.5 L170.0,233.5 L170.5,233.5 L171.0,233.5 L171.5,233.5 L172.0,233.5 L172.5,233.5 L173.0,233.5 L173.5,233.5 L174.0,233.5 L174.5,233.5 L175.0,233.5 L175.5,233.5 L176.0,233.5 L176.5,233.5 L177.0,233.5 L177.5,233.5 L178.0,233.5 L178.5,233.5 L179.0,233.5 L179.5,233.5 L180.0,233.5 L180.5,233.5 L181.0,233.5 L181.5,233.5 L182.0,233.5 L182.5,233.5 L183.0,233.5 L183.5,233.5 L184.0,233.5 L184.5,233.5 L185.0,233.5 L185.5,233.5 L186.0,233.5 L186.5,233.4 L187.0,233.4 L187.5,233.3 L188.0,233.1 L188.5,233.0 L189.0,232.7 L189.5,232.2 L190.0,231.6 L190.5,230.9 L191.0,229.8 L191.5,228.5 L192.0,226.2 L192.5,223.3 L193.0,220.4 L193.5,217.4 L194.0,214.3 L194.5,210.9 L195.0,207.4 L195.5,203.9 L196.0,200.5 L196.5,197.3 L197.0,194.3 L197.5,191.2 L198.0,187.6 L198.5,183.1 L199.0,177.2 L199.5,170.6 L200.0,164.3 L200.5,159.1 L201.0,155.3 L201.5,152.0 L202.0,148.0 L202.5,141.7 L203.0,132.7 L203.5,125.3 L204.0,119.0 L204.5,114.5 L205.0,110.8 L205.5,107.7 L206.0,104.9 L206.5,102.1 L207.0,99.1 L207.5,96.1 L208.0,93.1 L208.5,90.2 L209.0,87.7 L209.5,85.4 L210.0,83.7 L210.5,82.3 L211.0,81.0 L211.5,80.0 L212.0,79.1 L212.5,78.5 L213.0,78.1 L213.5,77.7 L214.0,77.3 L214.5,77.1 L215.0,77.0 L215.5,77.1 L216.0,77.3 L216.5,77.6 L217.0,77.9 L217.5,78.3 L218.0,78.7 L218.5,79.3 L219.0,79.9 L219.5,80.6 L220.0,81.2 L220.5,81.8 L221.0,82.3 L221.5,82.9 L222.0,83.5 L222.5,84.2 L223.0,84.9 L223.5,85.6 L224.0,86.3 L224.5,87.1 L225.0,87.9 L225.5,88.8 L226.0,89.6 L226.5,90.5 L227.0,91.3 L227.5,92.2 L228.0,93.0 L228.5,93.9 L229.0,94.8 L229.5,95.7 L230.0,96.6 L230.5,97.6 L231.0,98.5 L231.5,99.4 L232.0,100.3 L232.5,101.2 L233.0,102.1 L233.5,103.0 L234.0,103.9 L234.5,104.8 L235.0,105.7 L235.5,106.6 L236.0,107.5 L236.5,108.4 L237.0,109.3 L237.5,110.2 L238.0,111.1 L238.5,112.0 L239.0,112.9 L239.5,113.9 L240.0,114.8 L240.5,115.7 L241.0,116.6 L241.5,117.4 L242.0,118.3 L242.5,119.2 L243.0,120.1 L243.5,120.9 L244.0,121.8 L244.5,122.7 L245.0,123.6 L245.5,124.4 L246.0,125.3 L246.5,126.2 L247.0,127.1 L247.5,128.0 L248.0,128.8 L248.5,129.7 L249.0,130.6 L249.5,131.5 L250.0,132.4 L250.5,133.2 L251.0,134.1 L251.5,134.9 L252.0,135.7 L252.5,136.5 L253.0,137.3 L253.5,138.1 L254.0,138.9 L254.5,139.7 L255.0,140.4 L255.5,141.2 L256.0,141.9 L256.5,142.7 L257.0,143.4 L257.5,144.2 L258.0,144.9 L258.5,145.6 L259.0,146.3 L259.5,147.0 L260.0,147.7 L260.5,148.4 L261.0,149.1 L261.5,149.8 L262.0,150.5 L262.5,151.2 L263.0,151.8 L263.5,152.5 L264.0,153.2 L264.5,153.8 L265.0,154.5 L265.5,155.2 L266.0,155.8 L266.5,156.5 L267.0,157.1 L267.5,157.8 L268.0,158.5 L268.5,159.1 L269.0,159.7 L269.5,160.4 L270.0,161.0 L270.5,161.6 L271.0,162.2 L271.5,162.9 L272.0,163.5 L272.5,164.1 L273.0,164.7 L273.5,165.3 L274.0,165.9 L274.5,166.5 L275.0,167.1 L275.5,167.6 L276.0,168.2 L276.5,168.8 L277.0,169.4 L277.5,169.9 L278.0,170.5 L278.5,171.1 L279.0,171.7 L279.5,172.2 L280.0,172.8 L280.5,173.3 L281.0,173.9 L281.5,174.4 L282.0,175.0 L282.5,175.5 L283.0,176.1 L283.5,176.6 L284.0,177.1 L284.5,177.6 L285.0,178.1 L285.5,178.6 L286.0,179.0 L286.5,179.5 L287.0,180.0 L287.5,180.4 L288.0,180.9 L288.5,181.4 L289.0,181.9 L289.5,182.3 L290.0,182.8 L290.5,183.3 L291.0,183.8 L291.5,184.3 L292.0,184.7 L292.5,185.2 L293.0,185.7 L293.5,186.2 L294.0,186.6 L294.5,187.1 L295.0,187.6 L295.5,188.0 L296.0,188.5 L296.5,189.0 L297.0,189.5 L297.5,190.0 L298.0,190.4 L298.5,190.9 L299.0,191.4 L299.5,191.8 L300.0,192.3 L300.5,192.7 L301.0,193.1 L301.5,193.6 L302.0,194.0 L302.5,194.4 L303.0,194.7 L303.5,195.1 L304.0,195.5 L304.5,195.8 L305.0,196.2 L305.5,196.5 L306.0,196.8 L306.5,197.1 L307.0,197.4 L307.5,197.8 L308.0,198.1 L308.5,198.3 L309.0,198.6 L309.5,198.9 L310.0,199.2 L310.5,199.5 L311.0,199.8 L311.5,200.1 L312.0,200.4 L312.5,200.7 L313.0,201.0 L313.5,201.3 L314.0,201.5 L314.5,201.8 L315.0,202.1 L315.5,202.4 L316.0,202.7 L316.5,203.0 L317.0,203.3 L317.5,203.5 L318.0,203.8 L318.5,204.1 L319.0,204.4 L319.5,204.6 L320.0,204.9 L320.5,205.2 L321.0,205.4 L321.5,205.7 L322.0,206.0 L322.5,206.2 L323.0,206.5 L323.5,206.7 L324.0,207.0 L324.5,207.2 L325.0,207.5 L325.5,207.7 L326.0,208.0 L326.5,208.2 L327.0,208.4 L327.5,208.6 L328.0,208.9 L328.5,209.1 L329.0,209.3 L329.5,209.5 L330.0,209.7 L330.5,209.9 L331.0,210.1 L331.5,210.3 L332.0,210.5 L332.5,210.7 L333.0,210.9 L333.5,211.1 L334.0,211.3 L334.5,211.5 L335.0,211.7 L335.5,211.9 L336.0,212.1 L336.5,212.3 L337.0,212.4 L337.5,212.6 L338.0,212.8 L338.5,213.0 L339.0,213.1 L339.5,213.3 L340.0,213.5 L340.5,213.7 L341.0,213.8 L341.5,214.0 L342.0,214.2 L342.5,214.4 L343.0,214.5 L343.5,214.7 L344.0,214.9 L344.5,215.1 L345.0,215.2 L345.5,215.4 L346.0,215.6 L346.5,215.7 L347.0,215.9 L347.5,216.1 L348.0,216.2 L348.5,216.4 L349.0,216.6 L349.5,216.7 L350.0,216.9 L350.5,217.1 L351.0,217.2 L351.5,217.4 L352.0,217.5 L352.5,217.7 L353.0,217.9 L353.5,218.0 L354.0,218.2 L354.5,218.3 L355.0,218.5 L355.5,218.7 L356.0,218.8 L356.5,219.0 L357.0,219.2 L357.5,219.3 L358.0,219.5 L358.5,219.6 L359.0,219.8 L359.5,219.9 L360.0,220.1 L360.5,220.2 L361.0,220.3 L361.5,220.5 L362.0,220.6 L362.5,220.7 L363.0,220.8 L363.5,220.9 L364.0,221.0 L364.5,221.1 L365.0,221.2 L365.5,221.3 L366.0,221.4 L366.5,221.5 L367.0,221.6 L367.5,221.7 L368.0,221.8 L368.5,221.9 L369.0,222.0 L369.5,222.1 L370.0,222.2 L370.5,222.3 L371.0,222.4 L371.5,222.4 L372.0,222.5 L372.5,222.6 L373.0,222.7 L373.5,222.8 L374.0,222.9 L374.5,222.9 L375.0,223.0 L375.5,223.1 L376.0,223.2 L376.5,223.3 L377.0,223.3 L377.5,223.4 L378.0,223.5 L378.5,223.5 L379.0,223.6 L379.5,223.7 L380.0,223.8 L380.5,223.8 L381.0,223.9 L381.5,224.0 L382.0,224.0 L382.5,224.1 L383.0,224.1 L383.5,224.2 L384.0,224.3 L384.5,224.3 L385.0,224.4 L385.5,224.4 L386.0,224.5 L386.5,224.6 L387.0,224.6 L387.5,224.7 L388.0,224.7 L388.5,224.8 L389.0,224.8 L389.5,224.9 L390.0,225.0 L390.5,225.0 L391.0,225.1 L391.5,225.1 L392.0,225.2 L392.5,225.3 L393.0,225.3 L393.5,225.4 L394.0,225.4 L394.5,225.5 L395.0,225.5 L395.5,225.6 L396.0,225.6 L396.5,225.7" stroke="#f00" stroke-dasharray="2.55 0.95"/>
<path d="M18.5,204.8 L19.0,204.7 L19.5,204.5 L20.0,204.3 L20.5,204.2 L21.0,204.0 L21.5,203.8 L22.0,203.6 L22.5,203.4 L23.0,203.2 L23.5,203.0 L24.0,202.8 L24.5,202.5 L25.0,202.3 L25.5,202.1 L26.0,201.8 L26.5,201.6 L27.0,201.3 L27.5,201.1 L28.0,200.8 L28.5,200.5 L29.0,200.2 L29.5,199.9 L30.0,199.6 L30.5,199.2 L31.0,198.9 L31.5,198.5 L32.0,198.2 L32.5,197.8 L33.0,197.4 L33.5,196.9 L34.0,196.4 L34.5,195.9 L35.0,195.4 L35.5,194.8 L36.0,194.3 L36.5,193.7 L37.0,193.1 L37.5,192.5 L38.0,191.9 L38.5,191.3 L39.0,190.6 L39.5,190.0 L40.0,189.3 L40.5,188.6 L41.0,187.9 L41.5,187.2 L42.0,186.5 L42.5,185.8 L43.0,185.1 L43.5,184.4 L44.0,183.6 L44.5,182.8 L45.0,181.9 L45.5,180.9 L46.0,179.7 L46.5,178.3 L47.0,176.9 L47.5,175.4 L48.0,173.9 L48.5,172.4 L49.0,170.9 L49.5,169.5 L50.0,168.0 L50.5,166.6 L51.0,165.1 L51.5,163.5 L52.0,162.0 L52.5,160.3 L53.0,158.7 L53.5,157.1 L54.0,155.4 L54.5,153.7 L55.0,152.0 L55.5,150.3 L56.0,148.4 L56.5,146.6 L57.0,144.6 L57.5,142.6 L58.0,140.4 L58.5,138.2 L59.0,135.7 L59.5,133.1 L60.0,130.4 L60.5,127.6 L61.0,124.7 L61.5,121.8 L62.0,118.8 L62.5,115.9 L63.0,113.0 L63.5,110.1 L64.0,107.3 L64.5,104.5 L65.0,101.6 L65.5,98.7 L66.0,95.8 L66.5,92.9 L67.0,90.0 L67.5,87.0 L68.0,83.9 L68.5,80.8 L69.0,77.6 L69.5,74.3 L70.0,70.9 L70.5,67.3 L71.0,63.4 L71.5,59.4 L72.0,55.4 L72.5,51.4 L73.0,47.5 L73.5,43.8 L74.0,40.4 L74.5,37.4 L75.0,34.7 L75.5,32.0 L76.0,29.5 L76.5,27.2 L77.0,24.9 L77.5,22.8 L78.0,20.8 L78.5,18.8 L79.0,17.0 L79.5,15.5 L80.0,14.2 L80.5,13.1 L81.0,12.3 L81.5,11.8 L82.0,11.4 L82.5,11.2 L83.0,11.4 L83.5,11.8 L84.0,12.3 L84.5,13.1 L85.0,14.2 L85.5,15.5 L86.0,16.8 L86.5,18.3 L87.0,20.5 L87.5,24.2 L88.0,29.2 L88.5,34.7 L89.0,40.1 L89.5,45.8 L90.0,51.7 L90.5,57.8 L91.0,64.1 L91.5,70.5 L92.0,76.8 L92.5,83.1 L93.0,89.6 L93.5,96.2 L94.0,103.0 L94.5,110.0 L95.0,117.9 L95.5,126.7 L96.0,135.2 L96.5,142.6 L97.0,147.9 L97.5,151.9 L98.0,155.3 L98.5,158.6 L99.0,162.1 L99.5,165.3 L100.0,168.4 L100.5,171.5 L101.0,174.8 L101.5,178.5 L102.0,182.6 L102.5,188.1 L103.0,192.3 L103.5,195.6 L104.0,198.1 L104.5,200.2 L105.0,202.0 L105.5,203.5 L106.0,204.7 L106.5,205.8 L107.0,206.7 L107.5,207.5 L108.0,208.0 L108.5,208.4 L109.0,208.7 L109.5,209.0 L110.0,209.2 L110.5,209.4 L111.0,209.5 L111.5,209.6 L112.0,209.7 L112.5,209.8 L113.0,209.8 L113.5,209.9 L114.0,209.9 L114.5,209.9 L115.0,209.9 L115.5,209.9 L116.0,209.9 L116.5,209.9 L117.0,209.9 L117.5,209.9 L118.0,209.9 L118.5,209.9 L119.0,209.9 L119.5,209.9 L120.0,209.9 L120.5,209.9 L121.0,209.9 L121.5,209.9 L122.0,209.9 L122.5,209.9 L123.0,209.9 L123.5,209.9 L124.0,209.9 L124.5,209.9 L125.0,209.9 L125.5,209.9 L126.0,209.9 L126.5,209.9 L127.0,209.9 L127.5,209.9 L128.0,209.9 L128.5,209.9 L129.0,209.9 L129.5,209.9 L130.0,209.9 L130.5,209.9 L131.0,209.9 L131.5,209.9 L132.0,209.9 L132.5,209.9 L133.0,209.9 L133.5,209.9 L134.0,209.9 L134.5,209.9 L135.0,209.9 L135.5,209.9 L136.0,209.9 L136.5,209.9 L137.0,209.9 L137.5,209.9 L138.0,209.9 L138.5,209.9 L139.0,209.9 L139.5,209.9 L140.0,209.9 L140.5,209.9 L141.0,209.9 L141.5,209.9 L142.0,209.9 L142.5,209.9 L143.0,209.9 L143.5,209.9 L144.0,209.9 L144.5,209.9 L145.0,209.9 L145.5,209.9 L146.0,209.9 L146.5,209.9 L147.0,209.9 L147.5,209.9 L148.0,209.9 L148.5,209.9 L149.0,209.9 L149.5,209.9 L150.0,209.9 L150.5,209.9 L151.0,209.9 L151.5,209.9 L152.0,209.9 L152.5,209.9 L153.0,209.9 L153.5,209.9 L154.0,209.9 L154.5,209.9 L155.0,209.9 L155.5,209.9 L156.0,209.9 L156.5,209.9 L157.0,209.9 L157.5,209.9 L158.0,209.9 L158.5,209.9 L159.0,209.9 L159.5,209.9 L160.0,209.9 L160.5,209.9 L161.0,209.9 L161.5,209.9 L162.0,209.9 L162.5,209.9 L163.0,209.9 L163.5,209.9 L164.0,209.9 L164.5,209.9 L165.0,209.9 L165.5,209.9 L166.0,209.9 L166.5,209.9 L167.0,209.9 L167.5,209.9 L168.0,209.9 L168.5,209.9 L169.0,209.9 L169.5,209.9 L170.0,209.9 L170.5,209.9 L171.0,209.9 L171.5,209.9 L172.0,209.9 L172.5,209.9 L173.0,209.9 L173.5,209.9 L174.0,209.9 L174.5,209.9 L175.0,209.9 L175.5,209.9 L176.0,209.9 L176.5,209.9 L177.0,209.9 L177.5,209.9 L178.0,209.9 L178.5,209.9 L179.0,209.9 L179.5,209.9 L180.0,209.9 L180.5,209.9 L181.0,209.9 L181.5,209.9 L182.0,209.9 L182.5,209.9 L183.0,209.9 L183.5,209.9 L184.0,209.9 L184.5,209.9 L185.0,209.9 L185.5,209.9 L186.0,209.9 L186.5,209.9 L187.0,209.9 L187.5,209.9 L188.0,209.9 L188.5,209.9 L189.0,209.9 L189.5,209.9 L190.0,209.9 L190.5,209.9 L191.0,209.9 L191.5,209.9 L192.0,209.9 L192.5,209.9 L193.0,209.9 L193.5,209.9 L194.0,209.9 L194.5,209.9 L195.0,209.9 L195.5,209.9 L196.0,209.9 L196.5,209.9 L197.0,209.9 L197.5,209.9 L198.0,209.9 L198.5,209.9 L199.0,209.9 L199.5,209.9 L200.0,209.9 L200.5,209.9 L201.0,209.9 L201.5,209.9 L202.0,209.9 L202.5,209.9 L203.0,209.9 L203.5,209.9 L204.0,209.9 L204.5,209.9 L205.0,209.9 L205.5,209.9 L206.0,209.9 L206.5,209.9 L207.0,209.9 L207.5,209.9 L208.0,209.9 L208.5,209.9 L209.0,209.9 L209.5,209.9 L210.0,209.9 L210.5,209.9 L211.0,209.9 L211.5,209.9 L212.0,209.9 L212.5,209.9 L213.0,209.9 L213.5,209.9 L214.0,209.9 L214.5,209.9 L215.0,209.9 L215.5,209.9 L216.0,209.9 L216.5,209.9 L217.0,209.9 L217.5,209.9 L218.0,209.9 L218.5,209.9 L219.0,209.9 L219.5,209.9 L220.0,209.9 L220.5,209.9 L221.0,209.9 L221.5,209.9 L222.0,209.9 L222.5,209.9 L223.0,209.9 L223.5,209.9 L224.0,209.9 L224.5,209.9 L225.0,209.9 L225.5,209.9 L226.0,209.9 L226.5,209.9 L227.0,209.9 L227.5,209.9 L228.0,209.9 L228.5,209.9 L229.0,209.9 L229.5,209.9 L230.0,209.9 L230.5,209.9 L231.0,209.9 L231.5,209.9 L232.0,209.9 L232.5,209.9 L233.0,209.9 L233.5,209.9 L234.0,209.9 L234.5,209.9 L235.0,209.9 L235.5,209.9 L236.0,209.9 L236.5,209.9 L237.0,209.9 L237.5,209.9 L238.0,209.8 L238.5,209.8 L239.0,209.8 L239.5,209.8 L240.0,209.7 L240.5,209.7 L241.0,209.6 L241.5,209.5 L242.0,209.4 L242.5,209.3 L243.0,209.1 L243.5,209.0 L244.0,208.8 L244.5,208.6 L245.0,208.3 L245.5,208.1 L246.0,207.8 L246.5,207.5 L247.0,207.2 L247.5,206.8 L248.0,206.5 L248.5,206.2 L249.0,205.8 L249.5,205.5 L250.0,205.1 L250.5,204.7 L251.0,204.3 L251.5,203.8 L252.0,203.4 L252.5,203.0 L253.0,202.5 L253.5,202.0 L254.0,201.5 L254.5,201.0 L255.0,200.5 L255.5,199.9 L256.0,199.4 L256.5,198.8 L257.0,198.2 L257.5,197.6 L258.0,197.0 L258.5,196.4 L259.0,195.8 L259.5,195.2 L260.0,194.5 L260.5,193.8 L261.0,193.1 L261.5,192.4 L262.0,191.6 L262.5,190.8 L263.0,189.9 L263.5,189.1 L264.0,188.2 L264.5,187.3 L265.0,186.5 L265.5,185.7 L266.0,184.8 L266.5,184.0 L267.0,183.2 L267.5,182.3 L268.0,181.5 L268.5,180.7 L269.0,179.9 L269.5,179.1 L270.0,178.4 L270.5,177.6 L271.0,176.8 L271.5,176.1 L272.0,175.3 L272.5,174.5 L273.0,173.8 L273.5,173.0 L274.0,172.2 L274.5,171.5 L275.0,170.7 L275.5,170.0 L276.0,169.2 L276.5,168.5 L277.0,167.8 L277.5,167.1 L278.0,166.3 L278.5,165.6 L279.0,164.9 L279.5,164.1 L280.0,163.4 L280.5,162.6 L281.0,161.9 L281.5,161.2 L282.0,160.5 L282.5,159.9 L283.0,159.2 L283.5,158.6 L284.0,158.1 L284.5,157.6 L285.0,157.1 L285.5,156.7 L286.0,156.2 L286.5,155.8 L287.0,155.4 L287.5,155.0 L288.0,154.6 L288.5,154.2 L289.0,153.8 L289.5,153.5 L290.0,153.2 L290.5,152.9 L291.0,152.6 L291.5,152.4 L292.0,152.2 L292.5,152.0 L293.0,151.8 L293.5,151.6 L294.0,151.4 L294.5,151.2 L295.0,151.0 L295.5,150.9 L296.0,150.8 L296.5,150.7 L297.0,150.6 L297.5,150.5 L298.0,150.5 L298.5,150.4 L299.0,150.3 L299.5,150.3 L300.0,150.3 L300.5,150.2 L301.0,150.2 L301.5,150.2 L302.0,150.2 L302.5,150.2 L303.0,150.3 L303.5,150.4 L304.0,150.4 L304.5,150.5 L305.0,150.6 L305.5,150.7 L306.0,150.8 L306.5,150.9 L307.0,151.0 L307.5,151.2 L308.0,151.4 L308.5,151.5 L309.0,151.7 L309.5,151.9 L310.0,152.1 L310.5,152.3 L311.0,152.5 L311.5,152.7 L312.0,152.8 L312.5,153.0 L313.0,153.2 L313.5,153.4 L314.0,153.6 L314.5,153.8 L315.0,154.0 L315.5,154.2 L316.0,154.4 L316.5,154.6 L317.0,154.9 L317.5,155.1 L318.0,155.3 L318.5,155.6 L319.0,155.9 L319.5,156.1 L320.0,156.4 L320.5,156.7 L321.0,157.0 L321.5,157.3 L322.0,157.7 L322.5,158.0 L323.0,158.3 L323.5,158.6 L324.0,158.9 L324.5,159.2 L325.0,159.6 L325.5,159.9 L326.0,160.2 L326.5,160.5 L327.0,160.8 L327.5,161.2 L328.0,161.5 L328.5,161.8 L329.0,162.1 L329.5,162.5 L330.0,162.8 L330.5,163.1 L331.0,163.5 L331.5,163.8 L332.0,164.1 L332.5,164.5 L333.0,164.8 L333.5,165.1 L334.0,165.5 L334.5,165.8 L335.0,166.2 L335.5,166.5 L336.0,166.9 L336.5,167.2 L337.0,167.6 L337.5,167.9 L338.0,168.3 L338.5,168.6 L339.0,169.0 L339.5,169.3 L340.0,169.7 L340.5,170.0 L341.0,170.4 L341.5,170.7 L342.0,171.0 L342.5,171.4 L343.0,171.7 L343.5,172.0 L344.0,172.4 L344.5,172.7 L345.0,173.0 L345.5,173.3 L346.0,173.6 L346.5,173.9 L347.0,174.2 L347.5,174.5 L348.0,174.8 L348.5,175.1 L349.0,175.4 L349.5,175.7 L350.0,176.0 L350.5,176.3 L351.0,176.6 L351.5,176.9 L352.0,177.2 L352.5,177.5 L353.0,177.8 L353.5,178.1 L354.0,178.4 L354.5,178.8 L355.0,179.1 L355.5,179.4 L356.0,179.7 L356.5,180.1 L357.0,180.4 L357.5,180.7 L358.0,181.0 L358.5,181.3 L359.0,181.6 L359.5,181.9 L360.0,182.2 L360.5,182.5 L361.0,182.8 L361.5,183.0 L362.0,183.2 L362.5,183.5 L363.0,183.7 L363.5,183.9 L364.0,184.1 L364.5,184.3 L365.0,184.5 L365.5,184.7 L366.0,184.9 L366.5,185.1 L367.0,185.3 L367.5,185.5 L368.0,185.7 L368.5,185.8 L369.0,186.0 L369.5,186.2 L370.0,186.4 L370.5,186.5 L371.0,186.7 L371.5,186.9 L372.0,187.0 L372.5,187.2 L373.0,187.4 L373.5,187.5 L374.0,187.7 L374.5,187.8 L375.0,188.0 L375.5,188.1 L376.0,188.3 L376.5,188.4 L377.0,188.6 L377.5,188.7 L378.0,188.9 L378.5,189.0 L379.0,189.1 L379.5,189.3 L380.0,189.4 L380.5,189.5 L381.0,189.7 L381.5,189.8 L382.0,189.9 L382.5,190.1 L383.0,190.2 L383.5,190.3 L384.0,190.4 L384.5,190.6 L385.0,190.7 L385.5,190.8 L386.0,190.9 L386.5,191.0 L387.0,191.1 L387.5,191.3 L388.0,191.4 L388.5,191.5 L389.0,191.6 L389.5,191.7 L390.0,191.8 L390.5,191.9 L391.0,192.0 L391.5,192.1 L392.0,192.2 L392.5,192.3 L393.0,192.4 L393.5,192.5 L394.0,192.6 L394.5,192.7 L395.0,192.7 L395.5,192.8 L396.0,192.9 L396.5,193.0" stroke="#00f"/>
<path d="M18.5,209.9 L19.0,209.9 L19.5,209.9 L20.0,209.9 L20.5,209.9 L21.0,209.9 L21.5,209.9 L22.0,209.9 L22.5,209.9 L23.0,209.9 L23.5,209.9 L24.0,209.9 L24.5,209.9 L25.0,209.9 L25.5,209.9 L26.0,209.9 L26.5,209.9 L27.0,209.9 L27.5,209.9 L28.0,209.9 L28.5,209.9 L29.0,209.9 L29.5,209.9 L30.0,209.9 L30.5,209.9 L31.0,209.9 L31.5,209.9 L32.0,209.9 L32.5,209.9 L33.0,209.9 L33.5,209.9 L34.0,209.9 L34.5,209.9 L35.0,209.9 L35.5,209.9 L36.0,209.9 L36.5,209.9 L37.0,209.9 L37.5,209.9 L38.0,209.9 L38.5,209.9 L39.0,209.9 L39.5,209.9 L40.0,209.9 L40.5,209.9 L41.0,209.9 L41.5,209.9 L42.0,209.9 L42.5,209.9 L43.0,209.9 L43.5,209.9 L44.0,209.9 L44.5,209.9 L45.0,209.9 L45.5,209.9 L46.0,209.9 L46.5,209.9 L47.0,209.9 L47.5,209.9 L48.0,209.9 L48.5,209.9 L49.0,209.9 L49.5,209.9 L50.0,209.9 L50.5,209.9 L51.0,209.9 L51.5,209.9 L52.0,209.9 L52.5,209.9 L53.0,209.9 L53.5,209.9 L54.0,209.9 L54.5,209.9 L55.0,209.9 L55.5,209.9 L56.0,209.9 L56.5,209.9 L57.0,209.9 L57.5,209.9 L58.0,209.9 L58.5,209.9 L59.0,209.9 L59.5,209.9 L60.0,209.9 L60.5,209.9 L61.0,209.9 L61.5,209.9 L62.0,209.9 L62.5,209.9 L63.0,209.9 L63.5,209.9 L64.0,209.9 L64.5,209.9 L65.0,209.9 L65.5,209.9 L66.0,209.9 L66.5,209.9 L67.0,209.9 L67.5,209.9 L68.0,209.9 L68.5,209.9 L69.0,209.9 L69.5,209.9 L70.0,209.9 L70.5,209.9 L71.0,209.9 L71.5,209.9 L72.0,209.9 L72.5,209.9 L73.0,209.9 L73.5,209.9 L74.0,209.9 L74.5,209.9 L75.0,209.9 L75.5,209.9 L76.0,209.9 L76.5,209.9 L77.0,209.9 L77.5,209.9 L78.0,209.9 L78.5,209.9 L79.0,209.9 L79.5,209.9 L80.0,209.9 L80.5,209.9 L81.0,209.9 L81.5,209.9 L82.0,209.9 L82.5,209.9 L83.0,209.9 L83.5,209.8 L84.0,209.8 L84.5,209.7 L85.0,209.6 L85.5,209.5 L86.0,209.4 L86.5,209.3 L87.0,209.2 L87.5,209.0 L88.0,208.9 L88.5,208.7 L89.0,208.5 L89.5,208.3 L90.0,208.1 L90.5,207.8 L91.0,207.6 L91.5,207.3 L92.0,207.1 L92.5,206.8 L93.0,206.5 L93.5,206.3 L94.0,206.0 L94.5,205.7 L95.0,205.4 L95.5,205.2 L96.0,205.0 L96.5,204.9 L97.0,204.7 L97.5,204.6 L98.0,204.5 L98.5,204.5 L99.0,204.5 L99.5,204.5 L100.0,204.6 L100.5,204.7 L101.0,204.8 L101.5,204.9 L102.0,205.1 L102.5,205.4 L103.0,205.6 L103.5,205.9 L104.0,206.2 L104.5,206.6 L105.0,207.0 L105.5,207.4 L106.0,207.7 L106.5,208.0 L107.0,208.3 L107.5,208.6 L108.0,208.9 L108.5,209.1 L109.0,209.3 L109.5,209.4 L110.0,209.5 L110.5,209.5 L111.0,209.6 L111.5,209.7 L112.0,209.7 L112.5,209.8 L113.0,209.9 L113.5,209.9 L114.0,209.9 L114.5,209.9 L115.0,209.9 L115.5,209.9 L116.0,209.9 L116.5,209.9 L117.0,209.9 L117.5,209.9 L118.0,209.9 L118.5,209.9 L119.0,209.9 L119.5,209.9 L120.0,209.9 L120.5,209.9 L121.0,209.9 L121.5,209.9 L122.0,209.9 L122.5,209.9 L123.0,209.9 L123.5,209.9 L124.0,209.9 L124.5,209.9 L125.0,209.9 L125.5,209.9 L126.0,209.9 L126.5,209.9 L127.0,209.9 L127.5,209.9 L128.0,209.9 L128.5,209.9 L129.0,209.9 L129.5,209.9 L130.0,209.9 L130.5,209.9 L131.0,209.9 L131.5,209.9 L132.0,209.9 L132.5,209.9 L133.0,209.9 L133.5,209.9 L134.0,209.9 L134.5,209.9 L135.0,209.9 L135.5,209.9 L136.0,209.9 L136.5,209.9 L137.0,209.9 L137.5,209.9 L138.0,209.9 L138.5,209.9 L139.0,209.9 L139.5,209.9 L140.0,209.9 L140.5,209.9 L141.0,209.9 L141.5,209.9 L142.0,209.9 L142.5,209.9 L143.0,209.9 L143.5,209.9 L144.0,209.9 L144.5,209.9 L145.0,209.9 L145.5,209.9 L146.0,209.9 L146.5,209.9 L147.0,209.9 L147.5,209.9 L148.0,209.9 L148.5,209.9 L149.0,209.9 L149.5,209.9 L150.0,209.9 L150.5,209.9 L151.0,209.9 L151.5,209.9 L152.0,209.9 L152.5,209.9 L153.0,209.9 L153.5,209.9 L154.0,209.9 L154.5,209.9 L155.0,209.9 L155.5,209.9 L156.0,209.9 L156.5,209.9 L157.0,209.9 L157.5,209.9 L158.0,209.9 L158.5,209.9 L159.0,209.9 L159.5,209.9 L160.0,209.9 L160.5,209.9 L161.0,209.9 L161.5,209.9 L162.0,209.9 L162.5,209.9 L163.0,209.9 L163.5,209.9 L164.0,209.9 L164.5,209.9 L165.0,209.9 L165.5,209.9 L166.0,209.9 L166.5,209.9 L167.0,209.9 L167.5,209.9 L168.0,209.9 L168.5,209.9 L169.0,209.9 L169.5,209.9 L170.0,209.9 L170.5,209.9 L171.0,209.9 L171.5,209.9 L172.0,209.9 L172.5,209.9 L173.0,209.9 L173.5,209.9 L174.0,209.9 L174.5,209.9 L175.0,209.9 L175.5,209.9 L176.0,209.9 L176.5,209.9 L177.0,209.9 L177.5,209.9 L178.0,209.9 L178.5,209.9 L179.0,209.9 L179.5,209.9 L180.0,209.9 L180.5,209.9 L181.0,209.9 L181.5,209.9 L182.0,209.9 L182.5,209.9 L183.0,209.9 L183.5,209.9 L184.0,209.9 L184.5,209.9 L185.0,209.9 L185.5,209.9 L186.0,209.9 L186.5,209.9 L187.0,209.9 L187.5,209.9 L188.0,209.9 L188.5,209.9 L189.0,209.9 L189.5,209.9 L190.0,209.9 L190.5,209.9 L191.0,209.9 L191.5,209.9 L192.0,209.9 L192.5,209.9 L193.0,209.9 L193.5,209.9 L194.0,209.9 L194.5,209.9 L195.0,209.9 L195.5,209.9 L196.0,209.9 L196.5,209.9 L197.0,209.9 L197.5,209.9 L198.0,209.9 L198.5,209.9 L199.0,209.9 L199.5,209.9 L200.0,209.9 L200.5,209.9 L201.0,209.9 L201.5,209.9 L202.0,209.9 L202.5,209.9 L203.0,209.9 L203.5,209.9 L204.0,209.9 L204.5,209.8 L205.0,209.7 L205.5,209.6 L206.0,209.5 L206.5,209.4 L207.0,209.2 L207.5,208.9 L208.0,208.5 L208.5,208.0 L209.0,207.4 L209.5,206.8 L210.0,206.2 L210.5,205.4 L211.0,204.2 L211.5,202.9 L212.0,201.5 L212.5,200.0 L213.0,198.5 L213.5,197.0 L214.0,195.4 L214.5,193.6 L215.0,191.4 L215.5,188.9 L216.0,185.3 L216.5,180.9 L217.0,176.2 L217.5,171.4 L218.0,167.0 L218.5,163.1 L219.0,159.3 L219.5,155.6 L220.0,151.8 L220.5,147.8 L221.0,143.5 L221.5,139.0 L222.0,134.4 L222.5,129.5 L223.0,124.5 L223.5,119.1 L224.0,113.2 L224.5,107.2 L225.0,101.2 L225.5,95.7 L226.0,90.7 L226.5,86.6 L227.0,82.8 L227.5,79.3 L228.0,76.0 L228.5,72.9 L229.0,69.9 L229.5,67.2 L230.0,64.5 L230.5,61.9 L231.0,59.4 L231.5,57.1 L232.0,54.8 L232.5,52.6 L233.0,50.6 L233.5,48.8 L234.0,47.2 L234.5,45.6 L235.0,44.1 L235.5,42.7 L236.0,41.5 L236.5,40.4 L237.0,39.4 L237.5,38.7 L238.0,38.2 L238.5,37.7 L239.0,37.3 L239.5,37.1 L240.0,36.9 L240.5,36.7 L241.0,36.7 L241.5,36.8 L242.0,37.0 L242.5,37.2 L243.0,37.4 L243.5,37.7 L244.0,38.0 L244.5,38.4 L245.0,38.9 L245.5,39.5 L246.0,40.1 L246.5,40.7 L247.0,41.3 L247.5,42.0 L248.0,42.7 L248.5,43.6 L249.0,44.6 L249.5,45.6 L250.0,46.7 L250.5,47.9 L251.0,49.0 L251.5,50.2 L252.0,51.3 L252.5,52.3 L253.0,53.3 L253.5,54.3 L254.0,55.2 L254.5,56.2 L255.0,57.2 L255.5,58.1 L256.0,59.1 L256.5,60.1 L257.0,61.1 L257.5,62.2 L258.0,63.3 L258.5,64.5 L259.0,65.7 L259.5,66.9 L260.0,68.1 L260.5,69.3 L261.0,70.5 L261.5,71.7 L262.0,72.9 L262.5,74.1 L263.0,75.3 L263.5,76.5 L264.0,77.7 L264.5,78.9 L265.0,80.1 L265.5,81.3 L266.0,82.5 L266.5,83.6 L267.0,84.8 L267.5,85.9 L268.0,87.0 L268.5,88.1 L269.0,89.3 L269.5,90.4 L270.0,91.5 L270.5,92.6 L271.0,93.8 L271.5,94.9 L272.0,96.1 L272.5,97.2 L273.0,98.4 L273.5,99.5 L274.0,100.6 L274.5,101.8 L275.0,103.0 L275.5,104.2 L276.0,105.4 L276.5,106.5 L277.0,107.7 L277.5,108.9 L278.0,110.0 L278.5,111.1 L279.0,112.2 L279.5,113.2 L280.0,114.2 L280.5,115.2 L281.0,116.1 L281.5,117.0 L282.0,117.9 L282.5,118.8 L283.0,119.6 L283.5,120.5 L284.0,121.3 L284.5,122.1 L285.0,123.0 L285.5,123.8 L286.0,124.6 L286.5,125.5 L287.0,126.3 L287.5,127.1 L288.0,127.9 L288.5,128.7 L289.0,129.5 L289.5,130.3 L290.0,131.1 L290.5,131.9 L291.0,132.7 L291.5,133.5 L292.0,134.3 L292.5,135.0 L293.0,135.8 L293.5,136.6 L294.0,137.4 L294.5,138.1 L295.0,138.9 L295.5,139.6 L296.0,140.3 L296.5,141.0 L297.0,141.7 L297.5,142.3 L298.0,143.0 L298.5,143.6 L299.0,144.2 L299.5,144.9 L300.0,145.5 L300.5,146.1 L301.0,146.7 L301.5,147.3 L302.0,147.9 L302.5,148.5 L303.0,149.0 L303.5,149.6 L304.0,150.2 L304.5,150.8 L305.0,151.3 L305.5,151.9 L306.0,152.5 L306.5,153.0 L307.0,153.6 L307.5,154.1 L308.0,154.6 L308.5,155.2 L309.0,155.7 L309.5,156.2 L310.0,156.8 L310.5,157.3 L311.0,157.8 L311.5,158.4 L312.0,158.9 L312.5,159.4 L313.0,159.9 L313.5,160.5 L314.0,161.0 L314.5,161.5 L315.0,162.0 L315.5,162.5 L316.0,163.0 L316.5,163.5 L317.0,164.0 L317.5,164.4 L318.0,164.9 L318.5,165.3 L319.0,165.7 L319.5,166.1 L320.0,166.6 L320.5,167.0 L321.0,167.3 L321.5,167.7 L322.0,168.1 L322.5,168.5 L323.0,168.9 L323.5,169.3 L324.0,169.7 L324.5,170.1 L325.0,170.5 L325.5,170.9 L326.0,171.3 L326.5,171.7 L327.0,172.1 L327.5,172.5 L328.0,173.0 L328.5,173.4 L329.0,173.8 L329.5,174.1 L330.0,174.5 L330.5,174.9 L331.0,175.2 L331.5,175.5 L332.0,175.9 L332.5,176.2 L333.0,176.5 L333.5,176.8 L334.0,177.1 L334.5,177.4 L335.0,177.8 L335.5,178.1 L336.0,178.4 L336.5,178.7 L337.0,179.0 L337.5,179.3 L338.0,179.7 L338.5,180.0 L339.0,180.3 L339.5,180.6 L340.0,180.9 L340.5,181.2 L341.0,181.5 L341.5,181.8 L342.0,182.1 L342.5,182.3 L343.0,182.6 L343.5,182.9 L344.0,183.2 L344.5,183.4 L345.0,183.7 L345.5,183.9 L346.0,184.2 L346.5,184.4 L347.0,184.7 L347.5,184.9 L348.0,185.1 L348.5,185.4 L349.0,185.6 L349.5,185.8 L350.0,186.0 L350.5,186.3 L351.0,186.5 L351.5,186.7 L352.0,186.9 L352.5,187.1 L353.0,187.3 L353.5,187.5 L354.0,187.7 L354.5,187.8 L355.0,188.0 L355.5,188.2 L356.0,188.4 L356.5,188.5 L357.0,188.7 L357.5,188.9 L358.0,189.0 L358.5,189.2 L359.0,189.3 L359.5,189.5 L360.0,189.7 L360.5,189.8 L361.0,190.0 L361.5,190.1 L362.0,190.3 L362.5,190.5 L363.0,190.6 L363.5,190.8 L364.0,190.9 L364.5,191.1 L365.0,191.2 L365.5,191.4 L366.0,191.5 L366.5,191.7 L367.0,191.9 L367.5,192.0 L368.0,192.1 L368.5,192.3 L369.0,192.4 L369.5,192.6 L370.0,192.7 L370.5,192.8 L371.0,193.0 L371.5,193.1 L372.0,193.2 L372.5,193.4 L373.0,193.5 L373.5,193.6 L374.0,193.7 L374.5,193.8 L375.0,194.0 L375.5,194.1 L376.0,194.2 L376.5,194.3 L377.0,194.4 L377.5,194.5 L378.0,194.7 L378.5,194.8 L379.0,194.9 L379.5,195.0 L380.0,195.1 L380.5,195.2 L381.0,195.3 L381.5,195.4 L382.0,195.5 L382.5,195.6 L383.0,195.7 L383.5,195.8 L384.0,195.9 L384.5,196.0 L385.0,196.1 L385.5,196.2 L386.0,196.3 L386.5,196.4 L387.0,196.5 L387.5,196.6 L388.0,196.7 L388.5,196.8 L389.0,196.9 L389.5,197.0 L390.0,197.1 L390.5,197.2 L391.0,197.3 L391.5,197.4 L392.0,197.5 L392.5,197.6 L393.0,197.7 L393.5,197.8 L394.0,197.9 L394.5,198.0 L395.0,198.1 L395.5,198.2 L396.0,198.3 L396.5,198.4" stroke="#00f" stroke-dasharray="2.55 0.95"/>
</g>
<rect x="18.5" y="12.5" width="378.15" height="244.75" fill="none" stroke="#000" stroke-width="0.9"/>
<path d="M47.59,257.25v-3.4 M47.59,12.5v3.4 M105.77,257.25v-3.4 M105.77,12.5v3.4 M163.94,257.25v-3.4 M163.94,12.5v3.4 M222.12,257.25v-3.4 M222.12,12.5v3.4 M280.3,257.25v-3.4 M280.3,12.5v3.4 M338.47,257.25v-3.4 M338.47,12.5v3.4" stroke="#000" stroke-width="0.8" fill="none"/>
<line x1="355" y1="21.20" x2="384" y2="21.20" stroke="#000" stroke-width="1.25"/>
<line x1="355" y1="31.55" x2="384" y2="31.55" stroke="#000" stroke-width="1.25" stroke-dasharray="2.55 0.95"/>
<line x1="355" y1="41.90" x2="384" y2="41.90" stroke="#f00" stroke-width="1.25"/>
<line x1="355" y1="52.25" x2="384" y2="52.25" stroke="#f00" stroke-width="1.25" stroke-dasharray="2.55 0.95"/>
<line x1="355" y1="62.60" x2="384" y2="62.60" stroke="#00f" stroke-width="1.25"/>
<line x1="355" y1="72.95" x2="384" y2="72.95" stroke="#00f" stroke-width="1.25" stroke-dasharray="2.55 0.95"/>
</svg>
<div class="tl" style="left:27.9px">-4</div>
<div class="tl" style="left:86.1px">-2</div>
<div class="tl" style="left:145.4px">0</div>
<div class="tl" style="left:203.6px">2</div>
<div class="tl" style="left:261.8px">4</div>
<div class="tl" style="left:320.0px">6</div>
<div class="tl" style="left:378.1px">8</div>
<div class="xl">Energy (eV)</div>
<div class="yl">Spectral density</div>
<div class="lg" style="top:15.85px">&delta;<span class="sb">JT</span>=0.0%, 3x<span class="sp">2</span>-r<span class="sp">2</span></div>
<div class="lg" style="top:26.20px">&delta;<span class="sb">JT</span>=0.0%, 3y<span class="sp">2</span>-r<span class="sp">2</span></div>
<div class="lg" style="top:36.55px">&delta;<span class="sb">JT</span>=1.1%, 3x<span class="sp">2</span>-r<span class="sp">2</span></div>
<div class="lg" style="top:46.90px">&delta;<span class="sb">JT</span>=1.1%, 3y<span class="sp">2</span>-r<span class="sp">2</span></div>
<div class="lg" style="top:57.25px">&delta;<span class="sb">JT</span>=3.3%, 3x<span class="sp">2</span>-r<span class="sp">2</span></div>
<div class="lg" style="top:67.60px">&delta;<span class="sb">JT</span>=3.3%, 3y<span class="sp">2</span>-r<span class="sp">2</span></div>
</body></html>
